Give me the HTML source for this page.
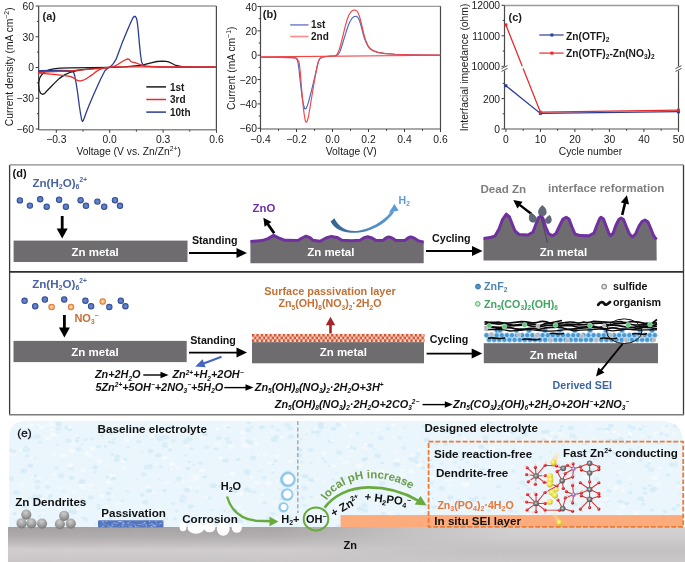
<!DOCTYPE html>
<html><head><meta charset="utf-8"><title>Figure</title>
<style>
html,body{margin:0;padding:0;background:#fff;width:685px;height:562px;overflow:hidden;}
svg{display:block;will-change:transform;}
text{font-family:"Liberation Sans",sans-serif;}
</style></head><body>
<svg width="685" height="562" viewBox="0 0 685 562">
<rect width="685" height="562" fill="#fff"/>
<line x1="38.65" y1="6" x2="216.4" y2="6" stroke="#9a9a9a" stroke-width="1.3"/>
<line x1="38.65" y1="129.8" x2="216.4" y2="129.8" stroke="#8a8a8a" stroke-width="1.5"/>
<path d="M38.65,6V129.8M216.4,6V129.8" fill="none" stroke="#4a4a4a" stroke-width="1.2"/>
<path d="M35.65,6H38.65M35.65,36.75H38.65M35.65,67.5H38.65M35.65,98.25H38.65M35.65,129H38.65M36.85,21.38H38.65M36.85,52.12H38.65M36.85,82.88H38.65M36.85,113.62H38.65" stroke="#3c3c3c" stroke-width="1"/>
<path d="M56.3,129.8V132.8M109.7,129.8V132.8M163.1,129.8V132.8M216.5,129.8V132.8M83,129.8V131.6M136.4,129.8V131.6M189.8,129.8V131.6" stroke="#3c3c3c" stroke-width="1"/>
<text x="34" y="9.9" font-size="10.3" text-anchor="end" fill="#1a1a1a">60</text>
<text x="34" y="40.65" font-size="10.3" text-anchor="end" fill="#1a1a1a">30</text>
<text x="34" y="71.4" font-size="10.3" text-anchor="end" fill="#1a1a1a">0</text>
<text x="34" y="102.15" font-size="10.3" text-anchor="end" fill="#1a1a1a">−30</text>
<text x="34" y="132.9" font-size="10.3" text-anchor="end" fill="#1a1a1a">−60</text>
<text x="56.3" y="142.6" font-size="10.3" text-anchor="middle" fill="#1a1a1a">−0.3</text>
<text x="109.7" y="142.6" font-size="10.3" text-anchor="middle" fill="#1a1a1a">0.0</text>
<text x="163.1" y="142.6" font-size="10.3" text-anchor="middle" fill="#1a1a1a">0.3</text>
<text x="216.5" y="142.6" font-size="10.3" text-anchor="middle" fill="#1a1a1a">0.6</text>
<text x="76.4" y="154.9" font-size="10.3" fill="#1a1a1a">Voltage (V vs. Zn/Zn<tspan font-size="6.8" dy="-3.8">2+</tspan><tspan dy="3.8">)</tspan></text>
<text transform="translate(12.6,126.2) rotate(-90)" font-size="10.3" fill="#1a1a1a">Current density (mA cm<tspan font-size="6.8" dy="-3.8">−2</tspan><tspan dy="3.8">)</tspan></text>
<text x="42.6" y="19.6" font-size="11" font-weight="bold" fill="#1a1a1a">(a)</text>
<polyline points="38.6,83 39.5,78.5 41,75.8 43,73.3 45.3,71.4 49,69.8 53.5,68.8 60,68.1 70,67.8 110,67.4" fill="none" stroke="#1b1b1b" stroke-width="1.3" stroke-linejoin="round" stroke-linecap="round"/>
<polyline points="38.6,83 39.2,90 40.6,93.3 42.4,94.3 44.5,93.6 47,90.8 50,87.7 55,82.6 59.4,78.4 65,74.6 71,72 77,70.5 82.7,69.6 95,68.4 106,67.7 125,66.8 142.3,65.2 147,63.9 151.1,62.8 157,61.5 162.8,61.1 166,61.3 168.6,61.9 172,63.5 175.9,65.5 181.8,66.6 195,67.1 216,67.2" fill="none" stroke="#1b1b1b" stroke-width="1.3" stroke-linejoin="round" stroke-linecap="round"/>
<polyline points="38.6,70.5 60,70.4 71,70.6" fill="none" stroke="#2c3d97" stroke-width="1.2" stroke-linejoin="round" stroke-linecap="round"/>
<polyline points="38.6,71.4 60,71.3 71,71.1 73.4,71.8 74.8,76 76.3,84.2 77.8,94 79.2,105 80.5,113.5 81.6,119.5 82.4,121.4 83.3,120.6 84.6,117 86.8,111 89.2,105 92.9,96.2 96.7,87.7 100.8,78.7 104.9,70.8 107.8,68.2 110.8,66.4 113.5,63.4 116,59.4 119,51.5 121.9,43.6 125.5,34.8 129.2,26.1 131.3,21.3 133,17.8 134.3,16.3 135.4,16.5 136.4,18.2 137.2,21.7 138.2,30 139.4,43.6 140.5,54.5 141.6,62 143,64.8 145.3,66.1 150,66.7 180,67.3 216,67.4" fill="none" stroke="#2c3d97" stroke-width="1.3" stroke-linejoin="round" stroke-linecap="round"/>
<polyline points="38.6,72.4 70,70.8 100,68.4 116,66.9 150,66.9 216,67.2" fill="none" stroke="#e52b2b" stroke-width="1.3" stroke-linejoin="round" stroke-linecap="round"/>
<polyline points="38.6,73.1 53.5,74.3 65,75.6 71,76.6 73.5,77.8 75.7,79.5 78.6,80.9 81,80.8 85,79.5 88.5,77.3 92,74.9 95.5,72.1 99,69.7 103,68.4 106,67.8 110,67.1 114.6,66.2 118,64.3 121.9,61.8 125.5,59.8 127.7,58.9 129.5,59.7 130.7,61.5 132.5,62.2 135,62.6 137.5,63.5 140.1,64.7 145.3,66.2 160,66.9 216,67.2" fill="none" stroke="#e52b2b" stroke-width="1.3" stroke-linejoin="round" stroke-linecap="round"/>
<line x1="146.3" y1="86.9" x2="166" y2="86.9" stroke="#1b1b1b" stroke-width="1.5"/>
<text x="170" y="90.5" font-size="10" font-weight="bold" fill="#1a1a1a">1st</text>
<line x1="146.3" y1="99.5" x2="166" y2="99.5" stroke="#e52b2b" stroke-width="1.5"/>
<text x="170" y="103.1" font-size="10" font-weight="bold" fill="#1a1a1a">3rd</text>
<line x1="146.3" y1="112.1" x2="166" y2="112.1" stroke="#2c3d97" stroke-width="1.5"/>
<text x="170" y="115.7" font-size="10" font-weight="bold" fill="#1a1a1a">10th</text>
<line x1="260.5" y1="6.3" x2="440.5" y2="6.3" stroke="#9a9a9a" stroke-width="1.3"/>
<line x1="260.5" y1="129" x2="440.5" y2="129" stroke="#555" stroke-width="1.1"/>
<path d="M260.5,6.3V129M440.5,6.3V129" fill="none" stroke="#4a4a4a" stroke-width="1.2"/>
<path d="M257.5,6.5H260.5M257.5,30.85H260.5M257.5,55.2H260.5M257.5,79.55H260.5M257.5,103.9H260.5M257.5,128.25H260.5M258.7,18.68H260.5M258.7,43.03H260.5M258.7,67.38H260.5M258.7,91.72H260.5M258.7,116.08H260.5" stroke="#3c3c3c" stroke-width="1"/>
<path d="M260.5,129V132M296.5,129V132M332.5,129V132M368.5,129V132M404.5,129V132M440.5,129V132M278.5,129V130.8M314.5,129V130.8M350.5,129V130.8M386.5,129V130.8M422.5,129V130.8" stroke="#3c3c3c" stroke-width="1"/>
<text x="257" y="10.6" font-size="10.3" text-anchor="end" fill="#1a1a1a">40</text>
<text x="257" y="34.95" font-size="10.3" text-anchor="end" fill="#1a1a1a">20</text>
<text x="257" y="59.3" font-size="10.3" text-anchor="end" fill="#1a1a1a">0</text>
<text x="257" y="83.65" font-size="10.3" text-anchor="end" fill="#1a1a1a">−20</text>
<text x="257" y="108" font-size="10.3" text-anchor="end" fill="#1a1a1a">−40</text>
<text x="257" y="132.35" font-size="10.3" text-anchor="end" fill="#1a1a1a">−60</text>
<text x="260.5" y="142.7" font-size="10.3" text-anchor="middle" fill="#1a1a1a">−0.4</text>
<text x="296.5" y="142.7" font-size="10.3" text-anchor="middle" fill="#1a1a1a">−0.2</text>
<text x="332.5" y="142.7" font-size="10.3" text-anchor="middle" fill="#1a1a1a">0.0</text>
<text x="368.5" y="142.7" font-size="10.3" text-anchor="middle" fill="#1a1a1a">0.2</text>
<text x="404.5" y="142.7" font-size="10.3" text-anchor="middle" fill="#1a1a1a">0.4</text>
<text x="440.5" y="142.7" font-size="10.3" text-anchor="middle" fill="#1a1a1a">0.6</text>
<text x="351.3" y="154.9" font-size="10.3" text-anchor="middle" fill="#1a1a1a">Voltage (V)</text>
<text transform="translate(235.1,109.9) rotate(-90)" font-size="10.3" fill="#1a1a1a">Current (mA cm<tspan font-size="6.8" dy="-3.8">−1</tspan><tspan dy="3.8">)</tspan></text>
<text x="262.8" y="18" font-size="11" font-weight="bold" fill="#1a1a1a">(b)</text>
<polyline points="260.8,57.2 280,57.4 292,57.6 295.6,57.9 297,59.5 297.8,61.6 299,69 299.9,78.4 301,88 302,97 303.5,105 304.9,109 306.3,108.2 308.4,102.6 310.5,94.5 312.7,85.6 315,76 317,67.5 318.5,61.2 319.8,58.7 322.7,56.9 330,56.2 336,55.8 338,54.8 340,51.5 342,45.5 344,38.8 346,32.3 348,26.3 350,21.5 352,18.3 354,16.6 356,16.2 357.8,17.2 359.5,20.5 361,25.5 362.4,31 364,37 366,42.3 368,46.3 370,48.8 373,50.8 378,52.4 385,53.5 395,54.2 410,54.7 440.2,55.2" fill="none" stroke="#4f68c6" stroke-width="1.15" stroke-linejoin="round"/>
<polyline points="260.8,57.2 280,57.4 292,57.6 296.4,58 297.8,59.8 299.2,63 300.3,72 301.3,85.6 302.5,98 303.5,109.2 304.5,116.5 305.3,120.8 306,122.3 307,121.7 308.4,117 310,107.5 312,95.5 313.8,84.5 315.6,74.2 317,66.8 318.4,61.4 319.8,58.6 321.3,57.2 328,56.3 335,55.7 337,54.5 339,50.3 341,43.5 343,35.5 345,27.2 347,20 349,14.8 351,11.8 352.8,10.4 354.5,10 356.3,10.5 358,12.6 359.5,16.5 361,22 362.5,28.5 364.2,35.5 366,41.3 368,45.6 370,48.3 373,50.6 378,52.4 385,53.6 395,54.3 410,54.7 440.2,55.1" fill="none" stroke="#f04646" stroke-width="1.15" stroke-linejoin="round"/>
<line x1="260.8" y1="56.9" x2="440.2" y2="55.3" stroke="#f04646" stroke-width="1.1"/>
<line x1="290.2" y1="24.9" x2="308.5" y2="24.9" stroke="#8392d4" stroke-width="1.7"/>
<text x="311" y="28.4" font-size="10" font-weight="bold" fill="#1a1a1a">1st</text>
<line x1="290.2" y1="36.5" x2="308.5" y2="36.5" stroke="#ff8f8f" stroke-width="1.7"/>
<text x="311" y="40" font-size="10" font-weight="bold" fill="#1a1a1a">2nd</text>
<line x1="504.5" y1="5.5" x2="678.5" y2="5.5" stroke="#9a9a9a" stroke-width="1.3"/>
<line x1="504.5" y1="129" x2="678.5" y2="129" stroke="#555" stroke-width="1.1"/>
<path d="M504.5,5.5V129M678.5,5.5V129" fill="none" stroke="#4a4a4a" stroke-width="1.2"/>
<path d="M501.5,5.3H504.5M501.5,35.8H504.5M501.5,66.3H504.5M501.5,98.6H504.5M501.5,129H504.5M502.7,20.55H504.5M502.7,51.05H504.5M502.7,83.4H504.5M502.7,113.8H504.5" stroke="#3c3c3c" stroke-width="1"/>
<path d="M505.9,129V132M540.4,129V132M574.9,129V132M609.4,129V132M643.9,129V132M678.4,129V132M523.15,129V130.8M557.65,129V130.8M592.15,129V130.8M626.65,129V130.8M661.15,129V130.8" stroke="#3c3c3c" stroke-width="1"/>
<text x="500.1" y="9.3" font-size="10.3" text-anchor="end" fill="#1a1a1a">12000</text>
<text x="500.1" y="39.8" font-size="10.3" text-anchor="end" fill="#1a1a1a">11000</text>
<text x="500.1" y="70.3" font-size="10.3" text-anchor="end" fill="#1a1a1a">10000</text>
<text x="500.1" y="102.6" font-size="10.3" text-anchor="end" fill="#1a1a1a">200</text>
<text x="500.1" y="133" font-size="10.3" text-anchor="end" fill="#1a1a1a">0</text>
<text x="505.9" y="142.7" font-size="10.3" text-anchor="middle" fill="#1a1a1a">0</text>
<text x="540.4" y="142.7" font-size="10.3" text-anchor="middle" fill="#1a1a1a">10</text>
<text x="574.9" y="142.7" font-size="10.3" text-anchor="middle" fill="#1a1a1a">20</text>
<text x="609.4" y="142.7" font-size="10.3" text-anchor="middle" fill="#1a1a1a">30</text>
<text x="643.9" y="142.7" font-size="10.3" text-anchor="middle" fill="#1a1a1a">40</text>
<text x="678.4" y="142.7" font-size="10.3" text-anchor="middle" fill="#1a1a1a">50</text>
<text x="590.5" y="154.9" font-size="10.3" text-anchor="middle" fill="#1a1a1a">Cycle number</text>
<text transform="translate(468.4,67.5) rotate(-90)" font-size="10.3" text-anchor="middle" fill="#1a1a1a">Interfacial impedance (ohm)</text>
<text x="508.5" y="20.9" font-size="11" font-weight="bold" fill="#1a1a1a">(c)</text>
<polyline points="505.9,85.7 540.4,113.4 678.4,111.6" fill="none" stroke="#2c3d97" stroke-width="1.3"/>
<polyline points="505.9,24.9 540.4,112.2 678.4,110.2" fill="none" stroke="#e52b2b" stroke-width="1.3"/>
<rect x="504.4" y="84.2" width="3" height="3" fill="#2c3d97"/>
<rect x="538.9" y="111.9" width="3" height="3" fill="#2c3d97"/>
<rect x="676.9" y="110.3" width="3" height="3" fill="#2c3d97"/>
<rect x="504.4" y="23.4" width="3" height="3" fill="#e52b2b"/>
<rect x="538.9" y="110.7" width="3" height="3" fill="#e52b2b"/>
<rect x="676.9" y="108.7" width="3" height="3" fill="#e52b2b"/>
<path d="M501.5,69L507.5,66M501.5,71L507.5,68" stroke="#fff" stroke-width="2.2"/>
<path d="M501.5,68.6L507.5,65.6M501.5,71.4L507.5,68.4" stroke="#3c3c3c" stroke-width="0.9"/>
<path d="M675.5,69L681.5,66M675.5,71L681.5,68" stroke="#fff" stroke-width="2.2"/>
<path d="M675.5,68.6L681.5,65.6M675.5,71.4L681.5,68.4" stroke="#3c3c3c" stroke-width="0.9"/>
<path d="M517,69.3L528,65.3" stroke="#fff" stroke-width="2.4"/>
<line x1="539.3" y1="35" x2="563.6" y2="35" stroke="#2c3d97" stroke-width="1.2"/><rect x="550.4" y="33.5" width="3" height="3" fill="#2c3d97"/>
<line x1="539.3" y1="53.1" x2="563.6" y2="53.1" stroke="#e52b2b" stroke-width="1.2"/><rect x="550.4" y="51.6" width="3" height="3" fill="#e52b2b"/>
<text x="566.1" y="39.9" font-size="10.2" font-weight="bold" fill="#1a1a1a">Zn(OTF)<tspan font-size="6.6" dy="2.4">2</tspan></text>
<text x="566.1" y="56.9" font-size="10.2" font-weight="bold" fill="#1a1a1a">Zn(OTF)<tspan font-size="6.6" dy="2.4">2</tspan><tspan dy="-2.4">-Zn(NO</tspan><tspan font-size="6.6" dy="2.4">3</tspan><tspan dy="-2.4">)</tspan><tspan font-size="6.6" dy="2.4">2</tspan></text>
<defs><radialGradient id="dotB" cx="0.5" cy="0.5" r="0.5"><stop offset="0" stop-color="#6d8ed6"/><stop offset="0.55" stop-color="#5577c2"/><stop offset="1" stop-color="#253a7c"/></radialGradient><radialGradient id="dotO" cx="0.5" cy="0.5" r="0.5"><stop offset="0" stop-color="#fff3cf"/><stop offset="0.5" stop-color="#f9b46a"/><stop offset="1" stop-color="#d8692a"/></radialGradient></defs>
<path d="M9.6,164.9V414.7M683.5,164.9V414.7" fill="none" stroke="#3a3a3a" stroke-width="1.3"/>
<line x1="9" y1="414.8" x2="684.1" y2="414.8" stroke="#7c7c7c" stroke-width="1.6"/>
<line x1="9.6" y1="164.9" x2="683.5" y2="164.9" stroke="#8a8a8a" stroke-width="1.4"/>
<line x1="9.6" y1="271.8" x2="683.5" y2="271.8" stroke="#2e2e2e" stroke-width="1.7"/>
<text x="12.5" y="176.7" font-size="11" font-weight="bold" fill="#111">(d)</text>
<text x="32.4" y="186.8" font-size="11.6" font-weight="bold" fill="#4a64a3">Zn(H<tspan font-size="7" dy="2.2">2</tspan><tspan dy="-2.2">​</tspan>O)<tspan font-size="7" dy="2.2">6</tspan><tspan dy="-2.2">​</tspan><tspan font-size="6.6" dy="-4.8">2+</tspan><tspan dy="4.8">​</tspan></text>
<circle cx="19.9" cy="200.4" r="3.2" fill="url(#dotB)"/>
<circle cx="29.9" cy="205.6" r="3.2" fill="url(#dotB)"/>
<circle cx="40.2" cy="199.3" r="3.2" fill="url(#dotB)"/>
<circle cx="46.7" cy="206.7" r="3.2" fill="url(#dotB)"/>
<circle cx="59.1" cy="199.7" r="3.2" fill="url(#dotB)"/>
<circle cx="65.9" cy="206.7" r="3.2" fill="url(#dotB)"/>
<circle cx="80.6" cy="200.2" r="3.2" fill="url(#dotB)"/>
<circle cx="86" cy="205.8" r="3.2" fill="url(#dotB)"/>
<circle cx="97.4" cy="201.6" r="3.2" fill="url(#dotB)"/>
<circle cx="104.2" cy="206.7" r="3.2" fill="url(#dotB)"/>
<circle cx="115" cy="200.2" r="3.2" fill="url(#dotB)"/>
<circle cx="120" cy="205.8" r="3.2" fill="url(#dotB)"/>
<line x1="62.2" y1="216" x2="62.2" y2="229.1" stroke="#000" stroke-width="2.8"/><polygon points="62.2,238.6 56.7,228.6 67.7,228.6" fill="#000"/>
<rect x="13.6" y="240.6" width="173.9" height="21.4" fill="#6e6c6f"/>
<text x="95.1" y="256.2" font-size="11.5" font-weight="bold" text-anchor="middle" fill="#fff">Zn metal</text>
<text x="191.9" y="244.2" font-size="10.7" font-weight="bold" fill="#111">Standing</text>
<line x1="189" y1="253" x2="237" y2="253" stroke="#000" stroke-width="1.9"/><polygon points="247,253 236.5,258 236.5,248" fill="#000"/>
<polygon points="250.4,241.6 262,240.6 268,238.6 273.6,235.4 278,237.6 285,240.3 298,240.6 302,238 306,236.2 310,237.6 313,240.3 320,241.2 326,238 331.4,236.4 337,237.4 342,240.2 351.6,240.8 360,240.2 364,237.8 367.7,236.8 372,238 376,240.6 383,240.4 386,238 388.7,236.9 392,238 396,240.6 405,240.4 408,238 410.6,236.9 414,238 418,240.6 423.7,242.2 423.7,263.2 250.4,263.2" fill="#6e6c6f"/>
<polyline points="250.4,241.6 262,240.6 268,238.6 273.6,235.4 278,237.6 285,240.3 298,240.6 302,238 306,236.2 310,237.6 313,240.3 320,241.2 326,238 331.4,236.4 337,237.4 342,240.2 351.6,240.8 360,240.2 364,237.8 367.7,236.8 372,238 376,240.6 383,240.4 386,238 388.7,236.9 392,238 396,240.6 405,240.4 408,238 410.6,236.9 414,238 418,240.6 423.7,242.2" fill="none" stroke="#7030a0" stroke-width="3" stroke-linejoin="round"/>
<text x="330.8" y="256.3" font-size="11.5" font-weight="bold" text-anchor="middle" fill="#fff">Zn metal</text>
<text x="252.5" y="211.9" font-size="11.4" font-weight="bold" fill="#7030a0">ZnO</text>
<line x1="274.2" y1="233.2" x2="267.71" y2="223.94" stroke="#000" stroke-width="2.8"/><polygon points="263.4,217.8 271.47,221.91 264.51,226.79" fill="#000"/>
<defs><linearGradient id="bgA" x1="0" x2="1" y1="0" y2="0"><stop offset="0" stop-color="#33628f"/><stop offset="0.5" stop-color="#4a80b8"/><stop offset="1" stop-color="#5a9bd8"/></linearGradient></defs>
<path d="M330.6,221.4 C335,230.2 345.5,233.4 357,232.8 C368,232.2 381,226 387.5,219.5 C390.5,216.5 392.5,214.5 394,212.2 L391.4,211 C389.8,213.3 388,215.4 385.5,217.6 C378,224.3 367,230 357,230.9 C347,231.6 338.8,227.6 334.4,218.3 Z" fill="url(#bgA)"/>
<polygon points="394.4,204.1 388.8,212.7 398.6,210.4" fill="#5a9bd8"/>
<text x="398.6" y="203.7" font-size="10.5" font-weight="bold" fill="#5b9bd5">H<tspan font-size="6.5" dy="2.4">2</tspan><tspan dy="-2.4">​</tspan></text>
<text x="432" y="241.7" font-size="10.7" font-weight="bold" fill="#111">Cycling</text>
<line x1="426" y1="251" x2="472.5" y2="251" stroke="#000" stroke-width="1.9"/><polygon points="482.5,251 472,256 472,246" fill="#000"/>
<polygon points="483.5,238.4 490,237.6 495,236 499,229 502.5,219.5 506.3,214.2 509.5,217 512,223.5 515,231 519,234.5 528,235 533,232 536,224 538.5,217.8 540.6,216.2 542.8,218 545.5,226.5 548.5,233.5 552.3,235.8 556,233.5 559.5,226 563,219 566.2,217.3 569,219 572,227 575,234 580,235.6 589,235.8 594,233 597,225 599.5,219 601,217.3 603.5,219 606.5,227 609,233.5 610.5,235.6 613,233.5 616,225 619,219.3 621.1,218.1 623.5,219.5 626.5,227 629.5,234 632.4,237 635.5,234 639,226 642,221.5 645,220 648,222 651,229 653.5,235.5 656.5,239.6 656.7,260.6 483.5,260.6" fill="#6e6c6f"/>
<polyline points="483.5,238.4 490,237.6 495,236 499,229 502.5,219.5 506.3,214.2 509.5,217 512,223.5 515,231 519,234.5 528,235 533,232 536,224 538.5,217.8 540.6,216.2 542.8,218 545.5,226.5 548.5,233.5 552.3,235.8 556,233.5 559.5,226 563,219 566.2,217.3 569,219 572,227 575,234 580,235.6 589,235.8 594,233 597,225 599.5,219 601,217.3 603.5,219 606.5,227 609,233.5 610.5,235.6 613,233.5 616,225 619,219.3 621.1,218.1 623.5,219.5 626.5,227 629.5,234 632.4,237 635.5,234 639,226 642,221.5 645,220 648,222 651,229 653.5,235.5 656.5,239.6" fill="none" stroke="#7030a0" stroke-width="3" stroke-linejoin="round"/>
<text x="563.5" y="256" font-size="11.5" font-weight="bold" text-anchor="middle" fill="#fff">Zn metal</text>
<text x="480.4" y="193.2" font-size="11.6" font-weight="bold" fill="#7f7f7f">Dead Zn</text>
<text x="548" y="191.8" font-size="11.65" font-weight="bold" fill="#7f7f7f">interface reformation</text>
<line x1="531.5" y1="214" x2="519.64" y2="204.88" stroke="#000" stroke-width="2.4"/><polygon points="513.3,200 522.63,201.81 517.45,208.55" fill="#000"/>
<line x1="622.2" y1="215" x2="625.05" y2="202.98" stroke="#000" stroke-width="2.6"/><polygon points="626.9,195.2 629.07,204.45 620.8,202.49" fill="#000"/>
<path d="M542.3,205.6 C545.5,207.5 546.8,211 546,213.5 C545,216.5 540.5,216.8 539,214.2 C537.8,212 539,208 542.3,205.6 Z" fill="#636876" stroke="#4a5472" stroke-width="0.7"/>
<path d="M530.5,213 C533.5,214 536.8,217 536.6,219.8 C536.3,222.3 532,223 530.2,221 C528.8,219.2 529.2,216 530.5,213 Z" fill="#636876" stroke="#4a5472" stroke-width="0.7"/>
<path d="M549.8,215.5 C551.3,217.5 551.8,220.5 550.6,222.3 C549.4,224 546,223.7 545.3,221.6 C544.7,219.5 546.8,216.8 549.8,215.5 Z" fill="#636876" stroke="#4a5472" stroke-width="0.7"/>
<path d="M541,217 L547.5,243" stroke="#4a3a6a" stroke-width="0.9"/>
<text x="32.2" y="287.6" font-size="11.6" font-weight="bold" fill="#4a64a3">Zn(H<tspan font-size="7" dy="2.2">2</tspan><tspan dy="-2.2">​</tspan>O)<tspan font-size="7" dy="2.2">6</tspan><tspan dy="-2.2">​</tspan><tspan font-size="6.6" dy="-4.8">2+</tspan><tspan dy="4.8">​</tspan></text>
<circle cx="24.6" cy="300.8" r="3.2" fill="url(#dotB)"/>
<circle cx="35.2" cy="306.2" r="3.2" fill="url(#dotB)"/>
<circle cx="44.9" cy="299.5" r="3.2" fill="url(#dotB)"/>
<circle cx="51.6" cy="307" r="3.2" fill="url(#dotO)"/>
<circle cx="64.2" cy="299.5" r="3.2" fill="url(#dotB)"/>
<circle cx="71" cy="307" r="3.2" fill="url(#dotO)"/>
<circle cx="85.4" cy="300.7" r="3.2" fill="url(#dotB)"/>
<circle cx="91.1" cy="306.3" r="3.2" fill="url(#dotB)"/>
<circle cx="102.7" cy="301.5" r="3.2" fill="url(#dotO)"/>
<circle cx="109.3" cy="307" r="3.2" fill="url(#dotB)"/>
<circle cx="120.8" cy="300.7" r="3.2" fill="url(#dotB)"/>
<circle cx="125.4" cy="306.3" r="3.2" fill="url(#dotB)"/>
<text x="74.4" y="322.2" font-size="11" font-weight="bold" fill="#c46f34">NO<tspan font-size="6.5" dy="2.2">3</tspan><tspan dy="-2.2">​</tspan><tspan font-size="7" dy="-4.5">−</tspan><tspan dy="4.5">​</tspan></text>
<line x1="64.4" y1="315" x2="64.4" y2="328.1" stroke="#000" stroke-width="2.8"/><polygon points="64.4,337.6 58.9,327.6 69.9,327.6" fill="#000"/>
<rect x="13.5" y="340.9" width="173.2" height="21.2" fill="#6e6c6f"/>
<text x="95" y="356.3" font-size="11.5" font-weight="bold" text-anchor="middle" fill="#fff">Zn metal</text>
<text x="190.2" y="344.2" font-size="10.7" font-weight="bold" fill="#111">Standing</text>
<line x1="189" y1="352.6" x2="237" y2="352.6" stroke="#000" stroke-width="1.9"/><polygon points="247,352.6 236.5,357.6 236.5,347.6" fill="#000"/>
<line x1="221.5" y1="356.7" x2="203.62" y2="363.43" stroke="#4466c0" stroke-width="2.1"/><polygon points="195.2,366.6 202.59,359.28 205.59,367.23" fill="#4466c0"/>
<defs><pattern id="chk" x="252" y="333.9" width="4.4" height="5.4" patternUnits="userSpaceOnUse"><rect width="4.4" height="5.4" fill="#fad6c4"/><rect width="2.2" height="2.7" fill="#d24e30"/><rect x="2.2" y="2.7" width="2.2" height="2.7" fill="#d24e30"/></pattern></defs>
<rect x="252" y="333.9" width="172.5" height="8.6" fill="url(#chk)"/>
<rect x="252" y="342.2" width="172" height="21.1" fill="#6e6c6f"/>
<text x="343.3" y="355.9" font-size="11.5" font-weight="bold" text-anchor="middle" fill="#fff">Zn metal</text>
<text x="330" y="294.5" font-size="10.9" font-weight="bold" text-anchor="middle" fill="#c46f34">Surface passivation layer</text>
<text x="330" y="307.3" font-size="10.7" font-weight="bold" text-anchor="middle" fill="#c46f34">Zn<tspan font-size="6.5" dy="2.2">5</tspan><tspan dy="-2.2">​</tspan>(OH)<tspan font-size="6.5" dy="2.2">8</tspan><tspan dy="-2.2">​</tspan>(NO<tspan font-size="6.5" dy="2.2">3</tspan><tspan dy="-2.2">​</tspan>)<tspan font-size="6.5" dy="2.2">2</tspan><tspan dy="-2.2">​</tspan>·2H<tspan font-size="6.5" dy="2.2">2</tspan><tspan dy="-2.2">​</tspan>O</text>
<line x1="330.5" y1="333.5" x2="330.5" y2="324.8" stroke="#a3262a" stroke-width="2.6"/><polygon points="330.5,316.8 335.25,325.3 325.75,325.3" fill="#a3262a"/>
<text x="429.7" y="342.8" font-size="10.7" font-weight="bold" fill="#111">Cycling</text>
<line x1="426.6" y1="353.6" x2="472.2" y2="353.6" stroke="#000" stroke-width="1.9"/><polygon points="482.2,353.6 471.7,358.6 471.7,348.6" fill="#000"/>
<rect x="483.8" y="343.2" width="174.2" height="20" fill="#6e6c6f"/>
<text x="553.5" y="358.6" font-size="11.5" font-weight="bold" text-anchor="middle" fill="#fff">Zn metal</text>
<g>
<circle cx="486.5" cy="335.2" r="2.55" fill="#4a98d2" stroke="#c0e2f6" stroke-width="0.7"/>
<circle cx="491.6" cy="335.2" r="2.55" fill="#4a98d2" stroke="#c0e2f6" stroke-width="0.7"/>
<circle cx="496.7" cy="335.2" r="2.55" fill="#4a98d2" stroke="#c0e2f6" stroke-width="0.7"/>
<circle cx="501.8" cy="335.2" r="2.55" fill="#4a98d2" stroke="#c0e2f6" stroke-width="0.7"/>
<circle cx="506.9" cy="335.2" r="2.55" fill="#4a98d2" stroke="#c0e2f6" stroke-width="0.7"/>
<circle cx="512" cy="335.2" r="2.55" fill="#4a98d2" stroke="#c0e2f6" stroke-width="0.7"/>
<circle cx="517.1" cy="335.2" r="2.55" fill="#4a98d2" stroke="#c0e2f6" stroke-width="0.7"/>
<circle cx="522.2" cy="335.2" r="2.55" fill="#4a98d2" stroke="#c0e2f6" stroke-width="0.7"/>
<circle cx="527.3" cy="335.2" r="2.55" fill="#4a98d2" stroke="#c0e2f6" stroke-width="0.7"/>
<circle cx="532.4" cy="335.2" r="2.55" fill="#4a98d2" stroke="#c0e2f6" stroke-width="0.7"/>
<circle cx="537.5" cy="335.2" r="2.55" fill="#4a98d2" stroke="#c0e2f6" stroke-width="0.7"/>
<circle cx="542.6" cy="335.2" r="2.55" fill="#4a98d2" stroke="#c0e2f6" stroke-width="0.7"/>
<circle cx="547.7" cy="335.2" r="2.55" fill="#4a98d2" stroke="#c0e2f6" stroke-width="0.7"/>
<circle cx="552.8" cy="335.2" r="2.55" fill="#4a98d2" stroke="#c0e2f6" stroke-width="0.7"/>
<circle cx="557.9" cy="335.2" r="2.55" fill="#4a98d2" stroke="#c0e2f6" stroke-width="0.7"/>
<circle cx="563" cy="335.2" r="2.55" fill="#4a98d2" stroke="#c0e2f6" stroke-width="0.7"/>
<circle cx="568.1" cy="335.2" r="2.55" fill="#4a98d2" stroke="#c0e2f6" stroke-width="0.7"/>
<circle cx="573.2" cy="335.2" r="2.55" fill="#4a98d2" stroke="#c0e2f6" stroke-width="0.7"/>
<circle cx="578.3" cy="335.2" r="2.55" fill="#4a98d2" stroke="#c0e2f6" stroke-width="0.7"/>
<circle cx="583.4" cy="335.2" r="2.55" fill="#4a98d2" stroke="#c0e2f6" stroke-width="0.7"/>
<circle cx="588.5" cy="335.2" r="2.55" fill="#4a98d2" stroke="#c0e2f6" stroke-width="0.7"/>
<circle cx="593.6" cy="335.2" r="2.55" fill="#4a98d2" stroke="#c0e2f6" stroke-width="0.7"/>
<circle cx="598.7" cy="335.2" r="2.55" fill="#4a98d2" stroke="#c0e2f6" stroke-width="0.7"/>
<circle cx="603.8" cy="335.2" r="2.55" fill="#4a98d2" stroke="#c0e2f6" stroke-width="0.7"/>
<circle cx="608.9" cy="335.2" r="2.55" fill="#4a98d2" stroke="#c0e2f6" stroke-width="0.7"/>
<circle cx="614" cy="335.2" r="2.55" fill="#4a98d2" stroke="#c0e2f6" stroke-width="0.7"/>
<circle cx="619.1" cy="335.2" r="2.55" fill="#4a98d2" stroke="#c0e2f6" stroke-width="0.7"/>
<circle cx="624.2" cy="335.2" r="2.55" fill="#4a98d2" stroke="#c0e2f6" stroke-width="0.7"/>
<circle cx="629.3" cy="335.2" r="2.55" fill="#4a98d2" stroke="#c0e2f6" stroke-width="0.7"/>
<circle cx="634.4" cy="335.2" r="2.55" fill="#4a98d2" stroke="#c0e2f6" stroke-width="0.7"/>
<circle cx="639.5" cy="335.2" r="2.55" fill="#4a98d2" stroke="#c0e2f6" stroke-width="0.7"/>
<circle cx="644.6" cy="335.2" r="2.55" fill="#4a98d2" stroke="#c0e2f6" stroke-width="0.7"/>
<circle cx="649.7" cy="335.2" r="2.55" fill="#4a98d2" stroke="#c0e2f6" stroke-width="0.7"/>
<circle cx="654.8" cy="335.2" r="2.55" fill="#4a98d2" stroke="#c0e2f6" stroke-width="0.7"/>
<circle cx="489.1" cy="339.8" r="2.55" fill="#4a98d2" stroke="#c0e2f6" stroke-width="0.7"/>
<circle cx="494.2" cy="339.8" r="2.55" fill="#4a98d2" stroke="#c0e2f6" stroke-width="0.7"/>
<circle cx="499.3" cy="339.8" r="2.55" fill="#4a98d2" stroke="#c0e2f6" stroke-width="0.7"/>
<circle cx="504.4" cy="339.8" r="2.55" fill="#4a98d2" stroke="#c0e2f6" stroke-width="0.7"/>
<circle cx="509.5" cy="339.8" r="2.55" fill="#4a98d2" stroke="#c0e2f6" stroke-width="0.7"/>
<circle cx="514.6" cy="339.8" r="2.55" fill="#4a98d2" stroke="#c0e2f6" stroke-width="0.7"/>
<circle cx="519.7" cy="339.8" r="2.55" fill="#4a98d2" stroke="#c0e2f6" stroke-width="0.7"/>
<circle cx="524.8" cy="339.8" r="2.55" fill="#4a98d2" stroke="#c0e2f6" stroke-width="0.7"/>
<circle cx="529.9" cy="339.8" r="2.55" fill="#4a98d2" stroke="#c0e2f6" stroke-width="0.7"/>
<circle cx="535" cy="339.8" r="2.55" fill="#4a98d2" stroke="#c0e2f6" stroke-width="0.7"/>
<circle cx="540.1" cy="339.8" r="2.55" fill="#4a98d2" stroke="#c0e2f6" stroke-width="0.7"/>
<circle cx="545.2" cy="339.8" r="2.55" fill="#4a98d2" stroke="#c0e2f6" stroke-width="0.7"/>
<circle cx="550.3" cy="339.8" r="2.55" fill="#4a98d2" stroke="#c0e2f6" stroke-width="0.7"/>
<circle cx="555.4" cy="339.8" r="2.55" fill="#4a98d2" stroke="#c0e2f6" stroke-width="0.7"/>
<circle cx="560.5" cy="339.8" r="2.55" fill="#4a98d2" stroke="#c0e2f6" stroke-width="0.7"/>
<circle cx="565.6" cy="339.8" r="2.55" fill="#4a98d2" stroke="#c0e2f6" stroke-width="0.7"/>
<circle cx="570.7" cy="339.8" r="2.55" fill="#4a98d2" stroke="#c0e2f6" stroke-width="0.7"/>
<circle cx="575.8" cy="339.8" r="2.55" fill="#4a98d2" stroke="#c0e2f6" stroke-width="0.7"/>
<circle cx="580.9" cy="339.8" r="2.55" fill="#4a98d2" stroke="#c0e2f6" stroke-width="0.7"/>
<circle cx="586" cy="339.8" r="2.55" fill="#4a98d2" stroke="#c0e2f6" stroke-width="0.7"/>
<circle cx="591.1" cy="339.8" r="2.55" fill="#4a98d2" stroke="#c0e2f6" stroke-width="0.7"/>
<circle cx="596.2" cy="339.8" r="2.55" fill="#4a98d2" stroke="#c0e2f6" stroke-width="0.7"/>
<circle cx="601.3" cy="339.8" r="2.55" fill="#4a98d2" stroke="#c0e2f6" stroke-width="0.7"/>
<circle cx="606.4" cy="339.8" r="2.55" fill="#4a98d2" stroke="#c0e2f6" stroke-width="0.7"/>
<circle cx="611.5" cy="339.8" r="2.55" fill="#4a98d2" stroke="#c0e2f6" stroke-width="0.7"/>
<circle cx="616.6" cy="339.8" r="2.55" fill="#4a98d2" stroke="#c0e2f6" stroke-width="0.7"/>
<circle cx="621.7" cy="339.8" r="2.55" fill="#4a98d2" stroke="#c0e2f6" stroke-width="0.7"/>
<circle cx="626.8" cy="339.8" r="2.55" fill="#4a98d2" stroke="#c0e2f6" stroke-width="0.7"/>
<circle cx="631.9" cy="339.8" r="2.55" fill="#4a98d2" stroke="#c0e2f6" stroke-width="0.7"/>
<circle cx="637" cy="339.8" r="2.55" fill="#4a98d2" stroke="#c0e2f6" stroke-width="0.7"/>
<circle cx="642.1" cy="339.8" r="2.55" fill="#4a98d2" stroke="#c0e2f6" stroke-width="0.7"/>
<circle cx="647.2" cy="339.8" r="2.55" fill="#4a98d2" stroke="#c0e2f6" stroke-width="0.7"/>
<circle cx="652.3" cy="339.8" r="2.55" fill="#4a98d2" stroke="#c0e2f6" stroke-width="0.7"/>
<circle cx="497" cy="330.5" r="2.55" fill="#4a98d2" stroke="#c0e2f6" stroke-width="0.7"/>
<circle cx="500" cy="330.5" r="2.55" fill="#4a98d2" stroke="#c0e2f6" stroke-width="0.7"/>
<circle cx="516.5" cy="330.5" r="2.55" fill="#4a98d2" stroke="#c0e2f6" stroke-width="0.7"/>
<circle cx="529" cy="330.5" r="2.55" fill="#4a98d2" stroke="#c0e2f6" stroke-width="0.7"/>
<circle cx="545" cy="330.5" r="2.55" fill="#4a98d2" stroke="#c0e2f6" stroke-width="0.7"/>
<circle cx="560" cy="330.5" r="2.55" fill="#4a98d2" stroke="#c0e2f6" stroke-width="0.7"/>
<circle cx="575" cy="330.5" r="2.55" fill="#4a98d2" stroke="#c0e2f6" stroke-width="0.7"/>
<circle cx="590" cy="330.5" r="2.55" fill="#4a98d2" stroke="#c0e2f6" stroke-width="0.7"/>
<circle cx="606" cy="330.5" r="2.55" fill="#4a98d2" stroke="#c0e2f6" stroke-width="0.7"/>
<circle cx="622" cy="330.5" r="2.55" fill="#4a98d2" stroke="#c0e2f6" stroke-width="0.7"/>
<circle cx="640" cy="330.5" r="2.55" fill="#4a98d2" stroke="#c0e2f6" stroke-width="0.7"/>
<circle cx="652" cy="330.5" r="2.55" fill="#4a98d2" stroke="#c0e2f6" stroke-width="0.7"/>
<circle cx="491.6" cy="334.3" r="2.2" fill="#b8b8bc" stroke="#e8e8e8" stroke-width="0.5"/>
<circle cx="518.8" cy="335" r="2.2" fill="#b8b8bc" stroke="#e8e8e8" stroke-width="0.5"/>
<circle cx="536.5" cy="335.7" r="2.2" fill="#b8b8bc" stroke="#e8e8e8" stroke-width="0.5"/>
<circle cx="551" cy="340.3" r="2.2" fill="#b8b8bc" stroke="#e8e8e8" stroke-width="0.5"/>
<circle cx="567.4" cy="340.3" r="2.2" fill="#b8b8bc" stroke="#e8e8e8" stroke-width="0.5"/>
<circle cx="582" cy="336" r="2.2" fill="#b8b8bc" stroke="#e8e8e8" stroke-width="0.5"/>
<circle cx="596" cy="340" r="2.2" fill="#b8b8bc" stroke="#e8e8e8" stroke-width="0.5"/>
<circle cx="611" cy="335" r="2.2" fill="#b8b8bc" stroke="#e8e8e8" stroke-width="0.5"/>
<circle cx="626" cy="340" r="2.2" fill="#b8b8bc" stroke="#e8e8e8" stroke-width="0.5"/>
<circle cx="641" cy="336" r="2.2" fill="#b8b8bc" stroke="#e8e8e8" stroke-width="0.5"/>
<circle cx="654" cy="340" r="2.2" fill="#b8b8bc" stroke="#e8e8e8" stroke-width="0.5"/>
</g>
<path d="M484.5,321.8 Q491.4,322.8 498.3,322.2 Q503.6,323.4 508.8,323.0 Q515.1,322.3 521.4,321.7 Q525.9,321.8 530.4,322.5 Q535.2,323.4 539.9,321.7 Q545.2,320.5 550.6,323.5 Q557.6,323.7 564.7,322.6 Q569.4,321.6 574.0,322.3 Q578.9,324.0 583.8,322.0 Q588.8,323.5 593.9,321.4 Q601.6,322.1 609.4,322.4 Q615.1,322.2 620.8,321.5 Q625.4,323.7 630.0,321.7 Q637.3,321.2 644.5,323.4 Q650.7,323.3 657.0,322.9" fill="none" stroke="#0a0a0a" stroke-width="1.7"/>
<path d="M484.5,324.3 Q491.6,322.5 498.6,324.1 Q506.0,322.9 513.4,325.4 Q521.0,323.8 528.6,323.8 Q534.7,323.7 540.8,325.6 Q546.6,322.1 552.5,323.1 Q559.5,326.4 566.5,324.2 Q572.7,324.4 578.9,324.9 Q584.2,324.7 589.5,324.4 Q596.2,322.8 602.9,323.3 Q608.6,326.1 614.3,323.8 Q620.9,323.3 627.5,323.1 Q632.2,325.6 636.9,325.0 Q642.7,325.0 648.6,324.7 Q652.8,326.3 657.0,323.9" fill="none" stroke="#0a0a0a" stroke-width="1.7"/>
<path d="M484.5,327.1 Q492.4,326.7 500.2,327.3 Q506.4,325.8 512.7,325.6 Q520.2,324.9 527.8,325.2 Q535.1,327.4 542.4,326.3 Q549.9,324.4 557.3,325.7 Q562.8,326.0 568.3,325.4 Q573.1,325.6 577.8,327.3 Q585.8,327.3 593.7,326.2 Q599.1,328.2 604.5,326.4 Q611.5,324.3 618.6,325.6 Q626.0,327.5 633.4,327.3 Q640.0,326.0 646.6,326.5 Q651.8,325.5 657.0,326.4" fill="none" stroke="#0a0a0a" stroke-width="1.7"/>
<path d="M484.5,328.0 Q491.7,326.5 498.9,328.8 Q506.7,326.6 514.6,328.6 Q521.3,329.8 528.1,328.6 Q533.5,328.0 538.9,329.5 Q546.5,327.0 554.2,327.4 Q559.0,326.6 563.9,328.3 Q568.9,329.8 573.8,328.8 Q578.8,328.5 583.7,328.0 Q590.0,327.3 596.2,327.6 Q601.3,327.9 606.5,328.9 Q612.9,326.7 619.3,328.9 Q626.9,329.5 634.4,329.1 Q639.0,328.3 643.5,327.4 Q650.2,327.2 657.0,328.9" fill="none" stroke="#0a0a0a" stroke-width="1.7"/>
<path d="M484.5,329.8 Q491.4,329.6 498.4,329.3 Q504.2,329.6 510.1,331.0 Q515.6,330.2 521.2,330.3 Q529.0,328.9 536.8,330.4 Q543.1,331.0 549.4,331.1 Q554.9,330.8 560.5,330.3 Q567.0,328.8 573.5,330.8 Q581.4,329.7 589.3,329.8 Q597.3,328.9 605.2,329.4 Q610.0,331.2 614.8,330.7 Q620.8,330.6 626.9,329.2 Q633.7,330.0 640.4,330.2 Q646.3,329.9 652.1,329.7 Q654.6,330.0 657.0,329.7" fill="none" stroke="#0a0a0a" stroke-width="1.3"/>
<path d="M488,338.3 C493,336.5 498,340 505,337.8" fill="none" stroke="#0a0a0a" stroke-width="1.6"/>
<path d="M522,339.6 C528,337.5 534,341.5 540.4,339" fill="none" stroke="#0a0a0a" stroke-width="1.6"/>
<path d="M549.6,333.7 C554,332 559,335.5 564,333.2" fill="none" stroke="#0a0a0a" stroke-width="1.6"/>
<path d="M600,338.5 C606,336.5 611,340.5 617,338" fill="none" stroke="#0a0a0a" stroke-width="1.6"/>
<path d="M632,334 C637,332 642,336 647,333.5" fill="none" stroke="#0a0a0a" stroke-width="1.6"/>
<path d="M650,325 L657,319.5" fill="none" stroke="#0a0a0a" stroke-width="1.6"/>
<path d="M545,324 L562,320.5" fill="none" stroke="#0a0a0a" stroke-width="1.4"/>
<circle cx="489.2" cy="325.8" r="2.4" fill="#5ccc7c" stroke="#c8f0d0" stroke-width="0.6"/>
<circle cx="504.3" cy="326.5" r="2.4" fill="#5ccc7c" stroke="#c8f0d0" stroke-width="0.6"/>
<circle cx="524.7" cy="325.1" r="2.4" fill="#5ccc7c" stroke="#c8f0d0" stroke-width="0.6"/>
<circle cx="555.6" cy="325.1" r="2.4" fill="#5ccc7c" stroke="#c8f0d0" stroke-width="0.6"/>
<circle cx="590" cy="325.5" r="2.4" fill="#5ccc7c" stroke="#c8f0d0" stroke-width="0.6"/>
<circle cx="628" cy="325" r="2.4" fill="#5ccc7c" stroke="#c8f0d0" stroke-width="0.6"/>
<circle cx="650" cy="324.5" r="2.4" fill="#5ccc7c" stroke="#c8f0d0" stroke-width="0.6"/>
<circle cx="485.9" cy="328.4" r="2" fill="#b8b8bc" stroke="#eee" stroke-width="0.5"/>
<circle cx="537.8" cy="325.8" r="2" fill="#b8b8bc" stroke="#eee" stroke-width="0.5"/>
<circle cx="604" cy="325.5" r="2" fill="#b8b8bc" stroke="#eee" stroke-width="0.5"/>
<ellipse cx="624.2" cy="331.2" rx="17.7" ry="12.3" fill="none" stroke="#111" stroke-width="1"/>
<line x1="622.5" y1="344" x2="601.05" y2="370.39" stroke="#000" stroke-width="1.8"/><polygon points="596,376.6 598.26,367.48 604.47,372.53" fill="#000"/>
<text x="552.6" y="389.2" font-size="10.7" font-weight="bold" fill="#3b66a3">Derived SEI</text>
<circle cx="478" cy="286.6" r="2.5" fill="#4a94cc" stroke="#2e6a9e" stroke-width="0.8"/>
<text x="484.1" y="290" font-size="10.7" font-weight="bold" fill="#4b84b4">ZnF<tspan font-size="6.5" dy="2.2">2</tspan><tspan dy="-2.2">​</tspan></text>
<circle cx="477.8" cy="303.9" r="2.3" fill="#c8f0d0" stroke="#49b26a" stroke-width="1"/>
<text x="484.1" y="308" font-size="10.7" font-weight="bold" fill="#3ea462">Zn<tspan font-size="6.5" dy="2.2">5</tspan><tspan dy="-2.2">​</tspan>(CO<tspan font-size="6.5" dy="2.2">3</tspan><tspan dy="-2.2">​</tspan>)<tspan font-size="6.5" dy="2.2">2</tspan><tspan dy="-2.2">​</tspan>(OH)<tspan font-size="6.5" dy="2.2">6</tspan><tspan dy="-2.2">​</tspan></text>
<circle cx="604.2" cy="286.6" r="2.3" fill="#ececec" stroke="#909090" stroke-width="1.3"/>
<text x="613" y="290" font-size="10.7" font-weight="bold" fill="#111">sulfide</text>
<path d="M598.2,304.8 C600.5,301.2 603,301.8 604.2,303.6 C605.6,305.8 607.5,304.4 610,302" fill="none" stroke="#111" stroke-width="2.8" stroke-linecap="round"/>
<text x="613" y="305.8" font-size="10.7" font-weight="bold" fill="#111">organism</text>
<text x="94.9" y="378.3" font-size="10.9" font-weight="bold" font-style="italic" fill="#111">Zn+2H<tspan font-size="6.5" dy="2.2">2</tspan><tspan dy="-2.2">​</tspan>O</text>
<line x1="143.3" y1="375" x2="161" y2="375" stroke="#000" stroke-width="1.4"/><polygon points="168.5,375 160.5,378.25 160.5,371.75" fill="#000"/>
<text x="172.4" y="378.3" font-size="10.9" font-weight="bold" font-style="italic" fill="#111">Zn<tspan font-size="6.5" dy="-3.8">2+</tspan><tspan dy="3.8">​</tspan>+H<tspan font-size="6.5" dy="2.2">2</tspan><tspan dy="-2.2">​</tspan>+2OH<tspan font-size="6.5" dy="-3.8">−</tspan><tspan dy="3.8">​</tspan></text>
<text x="95.4" y="390.9" font-size="10.9" font-weight="bold" font-style="italic" fill="#111">5Zn<tspan font-size="6.5" dy="-3.8">2+</tspan><tspan dy="3.8">​</tspan>+5OH<tspan font-size="6.5" dy="-3.8">−</tspan><tspan dy="3.8">​</tspan>+2NO<tspan font-size="6.5" dy="2.2">3</tspan><tspan dy="-2.2">​</tspan><tspan font-size="6.5" dy="-3.8">−</tspan><tspan dy="3.8">​</tspan>+5H<tspan font-size="6.5" dy="2.2">2</tspan><tspan dy="-2.2">​</tspan>O</text>
<line x1="224.3" y1="387.6" x2="246" y2="387.6" stroke="#000" stroke-width="1.4"/><polygon points="253.5,387.6 245.5,390.85 245.5,384.35" fill="#000"/>
<text x="254.8" y="390.9" font-size="10.9" font-weight="bold" font-style="italic" fill="#111">Zn<tspan font-size="6.5" dy="2.2">5</tspan><tspan dy="-2.2">​</tspan>(OH)<tspan font-size="6.5" dy="2.2">8</tspan><tspan dy="-2.2">​</tspan>(NO<tspan font-size="6.5" dy="2.2">3</tspan><tspan dy="-2.2">​</tspan>)<tspan font-size="6.5" dy="2.2">2</tspan><tspan dy="-2.2">​</tspan>·2H<tspan font-size="6.5" dy="2.2">2</tspan><tspan dy="-2.2">​</tspan>O+3H<tspan font-size="6.5" dy="-3.8">+</tspan><tspan dy="3.8">​</tspan></text>
<text x="274.8" y="407.9" font-size="10.9" font-weight="bold" font-style="italic" fill="#111">Zn<tspan font-size="6.5" dy="2.2">5</tspan><tspan dy="-2.2">​</tspan>(OH)<tspan font-size="6.5" dy="2.2">8</tspan><tspan dy="-2.2">​</tspan>(NO<tspan font-size="6.5" dy="2.2">3</tspan><tspan dy="-2.2">​</tspan>)<tspan font-size="6.5" dy="2.2">2</tspan><tspan dy="-2.2">​</tspan>·2H<tspan font-size="6.5" dy="2.2">2</tspan><tspan dy="-2.2">​</tspan>O+2CO<tspan font-size="6.5" dy="2.2">3</tspan><tspan dy="-2.2">​</tspan><tspan font-size="6.5" dy="-3.8">2−</tspan><tspan dy="3.8">​</tspan></text>
<line x1="422.5" y1="404.6" x2="445.3" y2="404.6" stroke="#000" stroke-width="1.4"/><polygon points="452.8,404.6 444.8,407.85 444.8,401.35" fill="#000"/>
<text x="453" y="407.9" font-size="10.9" font-weight="bold" font-style="italic" fill="#111">Zn<tspan font-size="6.5" dy="2.2">5</tspan><tspan dy="-2.2">​</tspan>(CO<tspan font-size="6.5" dy="2.2">3</tspan><tspan dy="-2.2">​</tspan>)<tspan font-size="6.5" dy="2.2">2</tspan><tspan dy="-2.2">​</tspan>(OH)<tspan font-size="6.5" dy="2.2">6</tspan><tspan dy="-2.2">​</tspan>+2H<tspan font-size="6.5" dy="2.2">2</tspan><tspan dy="-2.2">​</tspan>O+2OH<tspan font-size="6.5" dy="-3.8">−</tspan><tspan dy="3.8">​</tspan>+2NO<tspan font-size="6.5" dy="2.2">3</tspan><tspan dy="-2.2">​</tspan><tspan font-size="6.5" dy="-3.8">−</tspan><tspan dy="3.8">​</tspan></text>
<defs>
<linearGradient id="slabV" x1="0" y1="0" x2="0" y2="1">
 <stop offset="0" stop-color="#a5a1a2"/><stop offset="0.25" stop-color="#adaaab"/><stop offset="0.5" stop-color="#c3bfc1"/><stop offset="0.65" stop-color="#d2ced0"/><stop offset="0.85" stop-color="#cdc9cb"/><stop offset="1" stop-color="#c9c5c7"/>
</linearGradient>
<linearGradient id="slabR" x1="0" y1="0" x2="0" y2="1">
 <stop offset="0" stop-color="#d3d1d2"/><stop offset="0.3" stop-color="#cfcdce"/><stop offset="0.5" stop-color="#c7c5c6"/><stop offset="0.7" stop-color="#c2c0c1"/><stop offset="1" stop-color="#cac8c9"/>
</linearGradient>
<linearGradient id="slabMg" x1="0" y1="0" x2="1" y2="0">
 <stop offset="0" stop-color="#000"/><stop offset="0.4" stop-color="#1a1a1a"/><stop offset="0.6" stop-color="#b0b0b0"/><stop offset="0.75" stop-color="#fff"/><stop offset="1" stop-color="#fff"/>
</linearGradient>
<mask id="slabM" maskUnits="userSpaceOnUse" x="0" y="520" width="685" height="42"><rect x="8" y="527" width="677" height="35" fill="url(#slabMg)"/></mask>
<linearGradient id="slabH" x1="0" y1="0" x2="1" y2="0">
 <stop offset="0" stop-color="#000" stop-opacity="0.06"/><stop offset="0.5" stop-color="#fff" stop-opacity="0"/><stop offset="1" stop-color="#fff" stop-opacity="0.22"/>
</linearGradient>
<radialGradient id="sph" cx="0.45" cy="0.3" r="0.75">
 <stop offset="0" stop-color="#cfcfcf"/><stop offset="0.6" stop-color="#9a9a9a"/><stop offset="1" stop-color="#6e6e6e"/>
</radialGradient>
<radialGradient id="bub" cx="0.5" cy="0.5" r="0.5">
 <stop offset="0.45" stop-color="#ffffff"/><stop offset="0.75" stop-color="#c6e4f6"/><stop offset="1" stop-color="#7fbde6"/>
</radialGradient>
<radialGradient id="yel" cx="0.4" cy="0.35" r="0.65">
 <stop offset="0" stop-color="#fffbb0"/><stop offset="0.6" stop-color="#ece040"/><stop offset="1" stop-color="#c8b820"/>
</radialGradient>
<radialGradient id="gzn" cx="0.45" cy="0.45" r="0.6">
 <stop offset="0" stop-color="#f0f0f0"/><stop offset="0.35" stop-color="#8a8888"/><stop offset="1" stop-color="#4a4848"/>
</radialGradient>
<radialGradient id="oxg" cx="0.4" cy="0.35" r="0.65"><stop offset="0" stop-color="#ff9a9a"/><stop offset="0.5" stop-color="#e82020"/><stop offset="1" stop-color="#b81010"/></radialGradient>
<linearGradient id="glow2" x1="1" y1="1" x2="0" y2="0"><stop offset="0" stop-color="#ffd070" stop-opacity="0.9"/><stop offset="1" stop-color="#ffe8b0" stop-opacity="0"/></linearGradient>
<linearGradient id="glow" x1="0" y1="1" x2="0" y2="0">
 <stop offset="0" stop-color="#ffd070" stop-opacity="0.9"/><stop offset="1" stop-color="#ffe0a0" stop-opacity="0"/>
</linearGradient>
<pattern id="pasv" width="4" height="2.4" patternUnits="userSpaceOnUse">
 <rect width="4" height="2.4" fill="#4f7fcf"/><rect x="0" y="0.9" width="2.2" height="0.7" fill="#a8c4f0"/><rect x="2.4" y="0" width="1" height="0.6" fill="#2f5fb0"/>
</pattern>
</defs>
<path d="M9.2,437 Q9.2,421 26,421 H661 Q683,421 683,443 V530 H9.2 Z" fill="#eaf6fc"/>
<clipPath id="bgclip"><path d="M9.2,437 Q9.2,421 26,421 H661 Q683,421 683,443 V530 H9.2 Z"/></clipPath><g opacity="0.9" clip-path="url(#bgclip)"><ellipse cx="226.97" cy="438.69" rx="2.7" ry="1.89" fill="#d9eef9"/><ellipse cx="560.25" cy="432.79" rx="2.54" ry="1.78" fill="#f2f9fd"/><ellipse cx="153.85" cy="431.94" rx="2.16" ry="1.51" fill="#f5fbfe"/><ellipse cx="70.78" cy="467.15" rx="3.1" ry="2.17" fill="#d9eef9"/><ellipse cx="644.79" cy="488.59" rx="2.54" ry="1.78" fill="#d9eef9"/><ellipse cx="396.66" cy="464.25" rx="3.45" ry="2.41" fill="#d9eef9"/><ellipse cx="382.97" cy="436.85" rx="2.16" ry="1.51" fill="#f2f9fd"/><ellipse cx="88.92" cy="455.08" rx="3.08" ry="2.15" fill="#f5fbfe"/><ellipse cx="79.05" cy="482.41" rx="1.63" ry="1.14" fill="#d9eef9"/><ellipse cx="376.99" cy="429.53" rx="1.34" ry="0.94" fill="#f5fbfe"/><ellipse cx="342.6" cy="478.3" rx="2.99" ry="2.09" fill="#d6ecf8"/><ellipse cx="402.33" cy="470.13" rx="1.89" ry="1.32" fill="#f5fbfe"/><ellipse cx="478.33" cy="448.39" rx="2.52" ry="1.76" fill="#f2f9fd"/><ellipse cx="341.73" cy="458.72" rx="2.23" ry="1.56" fill="#f2f9fd"/><ellipse cx="666.72" cy="435.28" rx="2.16" ry="1.51" fill="#dbeff9"/><ellipse cx="111.83" cy="473.85" rx="1.29" ry="0.9" fill="#d9eef9"/><ellipse cx="522.26" cy="482.59" rx="3.21" ry="2.25" fill="#dbeff9"/><ellipse cx="237.88" cy="459.42" rx="2.34" ry="1.64" fill="#d6ecf8"/><ellipse cx="56.07" cy="432.73" rx="1.82" ry="1.27" fill="#d9eef9"/><ellipse cx="50.65" cy="495.96" rx="2.69" ry="1.88" fill="#d6ecf8"/><ellipse cx="200.68" cy="463.12" rx="2.74" ry="1.92" fill="#d9eef9"/><ellipse cx="640.23" cy="459.97" rx="2.61" ry="1.82" fill="#d6ecf8"/><ellipse cx="49.5" cy="502.9" rx="1.5" ry="1.05" fill="#f5fbfe"/><ellipse cx="276.59" cy="518.35" rx="2.34" ry="1.64" fill="#f5fbfe"/><ellipse cx="310.96" cy="480.14" rx="3.23" ry="2.26" fill="#d6ecf8"/><ellipse cx="588.87" cy="451.96" rx="2.16" ry="1.51" fill="#dbeff9"/><ellipse cx="467.42" cy="462.57" rx="1.73" ry="1.21" fill="#d9eef9"/><ellipse cx="128.07" cy="447.12" rx="1.74" ry="1.22" fill="#d6ecf8"/><ellipse cx="566.83" cy="441.96" rx="1.85" ry="1.29" fill="#f5fbfe"/><ellipse cx="290.69" cy="461.4" rx="2.5" ry="1.75" fill="#f5fbfe"/><ellipse cx="472.63" cy="476.61" rx="2.62" ry="1.83" fill="#d9eef9"/><ellipse cx="315.95" cy="513.58" rx="3.39" ry="2.37" fill="#f2f9fd"/><ellipse cx="272.89" cy="464.49" rx="1.44" ry="1.01" fill="#d6ecf8"/><ellipse cx="51.71" cy="430" rx="1.68" ry="1.18" fill="#f5fbfe"/><ellipse cx="83.65" cy="485.48" rx="1.44" ry="1" fill="#f2f9fd"/><ellipse cx="111.35" cy="433.55" rx="2.04" ry="1.43" fill="#d9eef9"/><ellipse cx="57.11" cy="444.63" rx="2.07" ry="1.45" fill="#dbeff9"/><ellipse cx="650.16" cy="485.64" rx="2.29" ry="1.6" fill="#d9eef9"/><ellipse cx="578.79" cy="526.28" rx="2.27" ry="1.59" fill="#d6ecf8"/><ellipse cx="218.94" cy="437.99" rx="2.92" ry="2.05" fill="#dbeff9"/><ellipse cx="330.68" cy="494.97" rx="2.39" ry="1.67" fill="#f5fbfe"/><ellipse cx="647.16" cy="477.94" rx="1.54" ry="1.08" fill="#f2f9fd"/><ellipse cx="622.48" cy="501.85" rx="1.89" ry="1.32" fill="#d9eef9"/><ellipse cx="476.45" cy="450.16" rx="2.04" ry="1.43" fill="#f5fbfe"/><ellipse cx="248.32" cy="446.17" rx="2.45" ry="1.71" fill="#f2f9fd"/><ellipse cx="230.88" cy="446.2" rx="3.07" ry="2.15" fill="#f5fbfe"/><ellipse cx="550.07" cy="508.11" rx="2.9" ry="2.03" fill="#f5fbfe"/><ellipse cx="143.95" cy="474.25" rx="2.88" ry="2.02" fill="#d9eef9"/><ellipse cx="539.38" cy="472.11" rx="1.65" ry="1.15" fill="#f2f9fd"/><ellipse cx="650.87" cy="469.51" rx="3.36" ry="2.35" fill="#dbeff9"/><ellipse cx="649.85" cy="460.92" rx="1.71" ry="1.19" fill="#f5fbfe"/><ellipse cx="324.95" cy="458.12" rx="2.31" ry="1.62" fill="#f2f9fd"/><ellipse cx="573.09" cy="472.87" rx="2.7" ry="1.89" fill="#d9eef9"/><ellipse cx="569.21" cy="435.47" rx="2.09" ry="1.47" fill="#f5fbfe"/><ellipse cx="330.28" cy="441.57" rx="3.02" ry="2.11" fill="#dbeff9"/><ellipse cx="68.12" cy="521.4" rx="2.86" ry="2" fill="#d6ecf8"/><ellipse cx="278.93" cy="521.47" rx="2.87" ry="2.01" fill="#f5fbfe"/><ellipse cx="675.39" cy="425.87" rx="2.56" ry="1.79" fill="#d6ecf8"/><ellipse cx="550.36" cy="438.2" rx="3.1" ry="2.17" fill="#d6ecf8"/><ellipse cx="450.37" cy="459.44" rx="2.46" ry="1.72" fill="#f5fbfe"/><ellipse cx="24.34" cy="506.13" rx="2.87" ry="2.01" fill="#d9eef9"/><ellipse cx="362.81" cy="520.1" rx="2.2" ry="1.54" fill="#f5fbfe"/><ellipse cx="563.52" cy="444.95" rx="1.78" ry="1.25" fill="#dbeff9"/><ellipse cx="345.78" cy="502.42" rx="1.95" ry="1.36" fill="#f2f9fd"/><ellipse cx="290.74" cy="436.63" rx="3.29" ry="2.31" fill="#dbeff9"/><ellipse cx="611.46" cy="491.9" rx="3.07" ry="2.15" fill="#f2f9fd"/><ellipse cx="291.82" cy="518.44" rx="2.35" ry="1.65" fill="#f2f9fd"/><ellipse cx="111.73" cy="476.1" rx="3.21" ry="2.25" fill="#f5fbfe"/><ellipse cx="417.73" cy="503.71" rx="1.54" ry="1.08" fill="#f5fbfe"/><ellipse cx="327.24" cy="498.42" rx="2.48" ry="1.74" fill="#dbeff9"/><ellipse cx="467.16" cy="478.2" rx="2.31" ry="1.62" fill="#d9eef9"/><ellipse cx="601.76" cy="428.91" rx="1.64" ry="1.15" fill="#d9eef9"/><ellipse cx="527.41" cy="475.8" rx="2.49" ry="1.74" fill="#d9eef9"/><ellipse cx="306.98" cy="486.7" rx="2.36" ry="1.65" fill="#f2f9fd"/><ellipse cx="143.6" cy="451.83" rx="2.37" ry="1.66" fill="#d6ecf8"/><ellipse cx="350.19" cy="448.76" rx="2.4" ry="1.68" fill="#dbeff9"/><ellipse cx="628.27" cy="515.85" rx="1.67" ry="1.17" fill="#d6ecf8"/><ellipse cx="101.88" cy="435.65" rx="2.22" ry="1.55" fill="#d9eef9"/><ellipse cx="459.67" cy="467.55" rx="1.69" ry="1.18" fill="#dbeff9"/><ellipse cx="535.24" cy="516.29" rx="1.56" ry="1.09" fill="#dbeff9"/><ellipse cx="105.8" cy="514.81" rx="3.43" ry="2.4" fill="#f5fbfe"/><ellipse cx="510.28" cy="432.79" rx="3.24" ry="2.26" fill="#f5fbfe"/><ellipse cx="673.21" cy="509.57" rx="1.57" ry="1.1" fill="#d6ecf8"/><ellipse cx="676.03" cy="465" rx="2.17" ry="1.52" fill="#dbeff9"/><ellipse cx="223.41" cy="498.1" rx="1.24" ry="0.87" fill="#f2f9fd"/><ellipse cx="317.31" cy="496.13" rx="2.08" ry="1.46" fill="#f2f9fd"/><ellipse cx="428.03" cy="476.28" rx="1.35" ry="0.94" fill="#f5fbfe"/><ellipse cx="661.04" cy="433.9" rx="1.81" ry="1.27" fill="#d9eef9"/><ellipse cx="616.95" cy="441.88" rx="2.94" ry="2.06" fill="#d6ecf8"/><ellipse cx="579.22" cy="493.3" rx="3.38" ry="2.36" fill="#d6ecf8"/><ellipse cx="110.08" cy="518.59" rx="2.51" ry="1.76" fill="#dbeff9"/><ellipse cx="69.94" cy="428.98" rx="2.78" ry="1.95" fill="#d6ecf8"/><ellipse cx="609.84" cy="450.97" rx="1.24" ry="0.87" fill="#d9eef9"/><ellipse cx="547.09" cy="431.71" rx="3.17" ry="2.22" fill="#d9eef9"/><ellipse cx="187.18" cy="435.65" rx="1.23" ry="0.86" fill="#f2f9fd"/><ellipse cx="289.9" cy="518.2" rx="2.63" ry="1.84" fill="#d9eef9"/><ellipse cx="363.03" cy="447.8" rx="1.45" ry="1.02" fill="#f5fbfe"/><ellipse cx="185.47" cy="441.84" rx="3.34" ry="2.34" fill="#dbeff9"/><ellipse cx="365.83" cy="444.41" rx="2.23" ry="1.56" fill="#f5fbfe"/><ellipse cx="191.25" cy="506.58" rx="3.49" ry="2.44" fill="#d9eef9"/><ellipse cx="20.28" cy="499.24" rx="2.47" ry="1.73" fill="#f5fbfe"/><ellipse cx="354.54" cy="448.55" rx="2.23" ry="1.56" fill="#d6ecf8"/><ellipse cx="449.86" cy="479.77" rx="3.24" ry="2.27" fill="#f2f9fd"/><ellipse cx="216.21" cy="445.38" rx="1.73" ry="1.21" fill="#f5fbfe"/><ellipse cx="567.63" cy="496.5" rx="2.66" ry="1.86" fill="#d6ecf8"/><ellipse cx="672.92" cy="525.12" rx="3.13" ry="2.19" fill="#d9eef9"/><ellipse cx="57.38" cy="500.05" rx="1.79" ry="1.25" fill="#f5fbfe"/><ellipse cx="47.12" cy="492.18" rx="2.08" ry="1.45" fill="#f2f9fd"/><ellipse cx="459.26" cy="452.32" rx="1.76" ry="1.23" fill="#dbeff9"/><ellipse cx="40.31" cy="442.28" rx="1.82" ry="1.27" fill="#d9eef9"/><ellipse cx="186.37" cy="523.03" rx="3.44" ry="2.41" fill="#f2f9fd"/><ellipse cx="226.77" cy="426.58" rx="3.23" ry="2.26" fill="#f5fbfe"/><ellipse cx="248.91" cy="423.11" rx="2.08" ry="1.45" fill="#d6ecf8"/><ellipse cx="196.88" cy="491.23" rx="1.77" ry="1.24" fill="#d9eef9"/><ellipse cx="70.87" cy="507.97" rx="1.53" ry="1.07" fill="#f2f9fd"/><ellipse cx="37.92" cy="425.34" rx="1.9" ry="1.33" fill="#f5fbfe"/><ellipse cx="66.6" cy="522.59" rx="3.16" ry="2.21" fill="#f5fbfe"/><ellipse cx="450.55" cy="497.46" rx="3.22" ry="2.26" fill="#d6ecf8"/><ellipse cx="522.09" cy="497.95" rx="2.34" ry="1.64" fill="#dbeff9"/><ellipse cx="495.18" cy="489.89" rx="1.3" ry="0.91" fill="#f2f9fd"/><ellipse cx="430.31" cy="499.32" rx="3.07" ry="2.15" fill="#f5fbfe"/><ellipse cx="619.62" cy="501.3" rx="2.51" ry="1.76" fill="#d9eef9"/><ellipse cx="563.69" cy="483.74" rx="3.25" ry="2.28" fill="#f5fbfe"/><ellipse cx="67.01" cy="427.35" rx="2.67" ry="1.87" fill="#d9eef9"/><ellipse cx="262.33" cy="469.94" rx="1.32" ry="0.92" fill="#d9eef9"/><ellipse cx="429.57" cy="493.79" rx="2.33" ry="1.63" fill="#d9eef9"/><ellipse cx="316.16" cy="430.29" rx="3.34" ry="2.34" fill="#f2f9fd"/><ellipse cx="71.6" cy="477.7" rx="2.92" ry="2.04" fill="#d6ecf8"/><ellipse cx="178.97" cy="430.74" rx="1.81" ry="1.27" fill="#f5fbfe"/><ellipse cx="164.59" cy="490.59" rx="2.26" ry="1.58" fill="#d6ecf8"/><ellipse cx="61.42" cy="517.69" rx="1.86" ry="1.3" fill="#d9eef9"/><ellipse cx="423.37" cy="489.85" rx="1.38" ry="0.96" fill="#f5fbfe"/><ellipse cx="232.29" cy="490.76" rx="2.79" ry="1.96" fill="#f2f9fd"/><ellipse cx="390.4" cy="424.3" rx="1.34" ry="0.94" fill="#dbeff9"/><ellipse cx="661.58" cy="433.35" rx="1.7" ry="1.19" fill="#d6ecf8"/><ellipse cx="204.87" cy="476.72" rx="2.27" ry="1.59" fill="#d6ecf8"/><ellipse cx="524" cy="526.3" rx="2.46" ry="1.72" fill="#dbeff9"/><ellipse cx="665.34" cy="520.37" rx="1.24" ry="0.87" fill="#d6ecf8"/><ellipse cx="61.23" cy="475.69" rx="3.49" ry="2.44" fill="#dbeff9"/><ellipse cx="269.19" cy="518.32" rx="3.34" ry="2.34" fill="#d9eef9"/><ellipse cx="399.59" cy="437.74" rx="2.41" ry="1.68" fill="#dbeff9"/><ellipse cx="98.85" cy="508.3" rx="2.37" ry="1.66" fill="#d9eef9"/><ellipse cx="481.24" cy="447.06" rx="3.26" ry="2.29" fill="#d6ecf8"/><ellipse cx="274.03" cy="439.54" rx="3.38" ry="2.37" fill="#d6ecf8"/><ellipse cx="281.63" cy="498.63" rx="2.16" ry="1.51" fill="#d6ecf8"/><ellipse cx="221.77" cy="510.38" rx="1.2" ry="0.84" fill="#dbeff9"/><ellipse cx="572.2" cy="435.48" rx="3.33" ry="2.33" fill="#d9eef9"/><ellipse cx="614.05" cy="453.14" rx="2.06" ry="1.44" fill="#d6ecf8"/><ellipse cx="271.41" cy="513.48" rx="1.38" ry="0.96" fill="#d6ecf8"/><ellipse cx="516.29" cy="511.84" rx="1.85" ry="1.29" fill="#d9eef9"/><ellipse cx="569.23" cy="452.7" rx="3.35" ry="2.35" fill="#f5fbfe"/><ellipse cx="660.6" cy="468.37" rx="1.93" ry="1.35" fill="#dbeff9"/><ellipse cx="536.05" cy="467.49" rx="1.27" ry="0.89" fill="#d6ecf8"/><ellipse cx="621.99" cy="520.83" rx="2.46" ry="1.72" fill="#d9eef9"/><ellipse cx="43.15" cy="499.16" rx="2.24" ry="1.57" fill="#f5fbfe"/><ellipse cx="441.81" cy="452.77" rx="1.31" ry="0.92" fill="#f2f9fd"/><ellipse cx="95.3" cy="472.11" rx="1.99" ry="1.39" fill="#dbeff9"/><ellipse cx="181.35" cy="499.83" rx="2.7" ry="1.89" fill="#d6ecf8"/><ellipse cx="449.52" cy="454.29" rx="2.48" ry="1.74" fill="#d6ecf8"/><ellipse cx="90.23" cy="489.89" rx="1.37" ry="0.96" fill="#f2f9fd"/><ellipse cx="616.99" cy="474.7" rx="1.71" ry="1.19" fill="#dbeff9"/><ellipse cx="677.64" cy="469.8" rx="1.52" ry="1.06" fill="#f5fbfe"/><ellipse cx="173.54" cy="441.17" rx="2.48" ry="1.73" fill="#dbeff9"/><ellipse cx="170.21" cy="449.87" rx="2.51" ry="1.76" fill="#d9eef9"/><ellipse cx="512.27" cy="465.93" rx="2.15" ry="1.51" fill="#f2f9fd"/><ellipse cx="150.7" cy="451.1" rx="2.93" ry="2.05" fill="#d6ecf8"/><ellipse cx="195.94" cy="523.64" rx="1.49" ry="1.04" fill="#f2f9fd"/><ellipse cx="364.58" cy="505.19" rx="3.15" ry="2.21" fill="#d9eef9"/><ellipse cx="191.58" cy="448.84" rx="2.12" ry="1.48" fill="#d6ecf8"/><ellipse cx="299.33" cy="455.45" rx="3.07" ry="2.15" fill="#d9eef9"/><ellipse cx="95.26" cy="467.22" rx="2.96" ry="2.07" fill="#d6ecf8"/><ellipse cx="658.75" cy="473.94" rx="1.37" ry="0.96" fill="#f2f9fd"/><ellipse cx="583.16" cy="524.11" rx="1.77" ry="1.24" fill="#d9eef9"/><ellipse cx="159.95" cy="438.82" rx="3.44" ry="2.4" fill="#d9eef9"/><ellipse cx="640.8" cy="498.06" rx="2.69" ry="1.88" fill="#d6ecf8"/><ellipse cx="66.95" cy="503.79" rx="1.2" ry="0.84" fill="#f5fbfe"/><ellipse cx="165.83" cy="518.67" rx="2.68" ry="1.88" fill="#dbeff9"/><ellipse cx="654.83" cy="488.15" rx="2.41" ry="1.69" fill="#d6ecf8"/><ellipse cx="478.05" cy="434.66" rx="1.36" ry="0.95" fill="#f2f9fd"/><ellipse cx="642.17" cy="442.94" rx="1.8" ry="1.26" fill="#f2f9fd"/><ellipse cx="10.77" cy="478.9" rx="3.49" ry="2.44" fill="#dbeff9"/><ellipse cx="652.49" cy="490.04" rx="3.23" ry="2.26" fill="#d6ecf8"/><ellipse cx="362.61" cy="479.89" rx="1.27" ry="0.89" fill="#d6ecf8"/><ellipse cx="482.12" cy="454.97" rx="1.25" ry="0.88" fill="#d6ecf8"/><ellipse cx="602.85" cy="490.31" rx="1.39" ry="0.97" fill="#f5fbfe"/><ellipse cx="457.13" cy="519.22" rx="1.72" ry="1.21" fill="#d9eef9"/><ellipse cx="476.2" cy="497.71" rx="2.03" ry="1.42" fill="#d6ecf8"/><ellipse cx="142.71" cy="505.89" rx="2.9" ry="2.03" fill="#f2f9fd"/><ellipse cx="55.18" cy="474.55" rx="1.66" ry="1.16" fill="#f5fbfe"/><ellipse cx="164.64" cy="446.03" rx="2.95" ry="2.06" fill="#dbeff9"/><ellipse cx="83.04" cy="487.85" rx="2.6" ry="1.82" fill="#f5fbfe"/><ellipse cx="334.99" cy="517.68" rx="1.33" ry="0.93" fill="#f2f9fd"/><ellipse cx="108.08" cy="463.92" rx="1.69" ry="1.18" fill="#f2f9fd"/><ellipse cx="105.08" cy="428.39" rx="1.34" ry="0.94" fill="#d6ecf8"/><ellipse cx="311.26" cy="497.05" rx="1.92" ry="1.35" fill="#d9eef9"/><ellipse cx="678.34" cy="519.89" rx="1.96" ry="1.37" fill="#f5fbfe"/><ellipse cx="447.15" cy="477.58" rx="2.28" ry="1.59" fill="#dbeff9"/><ellipse cx="455.17" cy="462.38" rx="2.06" ry="1.44" fill="#dbeff9"/><ellipse cx="306.43" cy="434.33" rx="1.38" ry="0.97" fill="#d9eef9"/><ellipse cx="245.48" cy="522.37" rx="1.48" ry="1.04" fill="#f5fbfe"/><ellipse cx="264.69" cy="502.95" rx="1.91" ry="1.34" fill="#d6ecf8"/><ellipse cx="68.8" cy="496.35" rx="1.65" ry="1.16" fill="#f2f9fd"/><ellipse cx="626.07" cy="443.07" rx="2.04" ry="1.43" fill="#d6ecf8"/><ellipse cx="30.29" cy="465.72" rx="3.07" ry="2.15" fill="#d6ecf8"/><ellipse cx="37.24" cy="426.62" rx="1.34" ry="0.94" fill="#d9eef9"/><ellipse cx="182.2" cy="500.72" rx="3.27" ry="2.29" fill="#dbeff9"/><ellipse cx="253.19" cy="457.84" rx="3.39" ry="2.38" fill="#d9eef9"/><ellipse cx="185.66" cy="497.53" rx="1.93" ry="1.35" fill="#dbeff9"/><ellipse cx="209.26" cy="498.04" rx="2.57" ry="1.8" fill="#d9eef9"/><ellipse cx="26.25" cy="447.32" rx="2.29" ry="1.61" fill="#d6ecf8"/><ellipse cx="649.12" cy="463.2" rx="1.78" ry="1.24" fill="#d6ecf8"/><ellipse cx="555.92" cy="436.8" rx="2.34" ry="1.64" fill="#d9eef9"/><ellipse cx="547.72" cy="499.8" rx="3.09" ry="2.16" fill="#f5fbfe"/><ellipse cx="416.86" cy="457.09" rx="1.93" ry="1.35" fill="#dbeff9"/><ellipse cx="535.17" cy="484.95" rx="2.38" ry="1.66" fill="#d6ecf8"/><ellipse cx="514.43" cy="448.72" rx="1.35" ry="0.94" fill="#d9eef9"/><ellipse cx="332.73" cy="479.64" rx="1.57" ry="1.1" fill="#d6ecf8"/><ellipse cx="601.93" cy="525.73" rx="1.81" ry="1.27" fill="#d9eef9"/><ellipse cx="149.59" cy="466.79" rx="3.47" ry="2.43" fill="#d6ecf8"/><ellipse cx="126.04" cy="436.82" rx="2.26" ry="1.58" fill="#f5fbfe"/><ellipse cx="511.14" cy="511.09" rx="2.73" ry="1.91" fill="#d9eef9"/><ellipse cx="532.43" cy="453.57" rx="1.84" ry="1.29" fill="#dbeff9"/><ellipse cx="259.89" cy="499.76" rx="1.66" ry="1.16" fill="#f5fbfe"/><ellipse cx="134.44" cy="447.49" rx="1.85" ry="1.29" fill="#f2f9fd"/><ellipse cx="136.13" cy="429.74" rx="1.78" ry="1.25" fill="#f5fbfe"/><ellipse cx="349.91" cy="447.06" rx="3.06" ry="2.14" fill="#d6ecf8"/><ellipse cx="673.94" cy="433.64" rx="2.29" ry="1.6" fill="#f5fbfe"/><ellipse cx="573.17" cy="518.1" rx="1.29" ry="0.9" fill="#dbeff9"/><ellipse cx="166.04" cy="428.24" rx="2.58" ry="1.81" fill="#f2f9fd"/><ellipse cx="140.09" cy="430.81" rx="2.38" ry="1.67" fill="#f5fbfe"/><ellipse cx="310.91" cy="450.03" rx="2.99" ry="2.09" fill="#d9eef9"/><ellipse cx="80.87" cy="485" rx="2.63" ry="1.84" fill="#f5fbfe"/><ellipse cx="35.09" cy="458.36" rx="1.3" ry="0.91" fill="#dbeff9"/><ellipse cx="35.62" cy="499.15" rx="3.3" ry="2.31" fill="#d9eef9"/><ellipse cx="558.62" cy="465.54" rx="2.06" ry="1.44" fill="#f2f9fd"/><ellipse cx="219.17" cy="444.15" rx="3.03" ry="2.12" fill="#f2f9fd"/><ellipse cx="333.95" cy="465.45" rx="3.03" ry="2.12" fill="#f2f9fd"/><ellipse cx="113.55" cy="478.54" rx="2.7" ry="1.89" fill="#d6ecf8"/><ellipse cx="475.92" cy="465.62" rx="1.85" ry="1.3" fill="#dbeff9"/><ellipse cx="289.96" cy="428.34" rx="2.91" ry="2.04" fill="#dbeff9"/><ellipse cx="287.43" cy="424.89" rx="2.96" ry="2.07" fill="#dbeff9"/><ellipse cx="441.8" cy="463.64" rx="2.13" ry="1.49" fill="#d9eef9"/><ellipse cx="300.89" cy="439.28" rx="1.46" ry="1.02" fill="#d9eef9"/><ellipse cx="282.17" cy="514.82" rx="2.26" ry="1.58" fill="#f5fbfe"/><ellipse cx="97.08" cy="428.38" rx="1.53" ry="1.07" fill="#d6ecf8"/><ellipse cx="69.65" cy="487.71" rx="2.05" ry="1.44" fill="#f2f9fd"/><ellipse cx="125.03" cy="459.19" rx="1.57" ry="1.1" fill="#f5fbfe"/><ellipse cx="630.08" cy="434.31" rx="2.33" ry="1.63" fill="#f5fbfe"/><ellipse cx="212.08" cy="510.08" rx="1.3" ry="0.91" fill="#d6ecf8"/><ellipse cx="220.73" cy="486.2" rx="2.66" ry="1.86" fill="#d9eef9"/><ellipse cx="615.83" cy="487.52" rx="3.1" ry="2.17" fill="#f5fbfe"/><ellipse cx="439.02" cy="512.09" rx="2.63" ry="1.84" fill="#f2f9fd"/><ellipse cx="577.06" cy="509.24" rx="1.62" ry="1.13" fill="#f5fbfe"/><ellipse cx="37.95" cy="520.61" rx="1.56" ry="1.09" fill="#dbeff9"/><ellipse cx="92.45" cy="448.69" rx="2.87" ry="2.01" fill="#f5fbfe"/><ellipse cx="37.54" cy="481.48" rx="2.94" ry="2.06" fill="#d9eef9"/><ellipse cx="457.49" cy="456.72" rx="2.1" ry="1.47" fill="#d6ecf8"/><ellipse cx="378.53" cy="488.21" rx="1.9" ry="1.33" fill="#d6ecf8"/><ellipse cx="216.5" cy="448.92" rx="2.1" ry="1.47" fill="#dbeff9"/><ellipse cx="309.35" cy="468.59" rx="1.25" ry="0.88" fill="#f2f9fd"/><ellipse cx="670.71" cy="471.39" rx="2.23" ry="1.56" fill="#f2f9fd"/><ellipse cx="532.58" cy="470.66" rx="1.61" ry="1.13" fill="#d6ecf8"/><ellipse cx="278.23" cy="429.98" rx="2.02" ry="1.42" fill="#dbeff9"/><ellipse cx="71.45" cy="468.96" rx="2.37" ry="1.66" fill="#d9eef9"/><ellipse cx="37.24" cy="436.55" rx="3.32" ry="2.32" fill="#dbeff9"/><ellipse cx="531.02" cy="476.19" rx="1.32" ry="0.93" fill="#f2f9fd"/><ellipse cx="609.56" cy="490.89" rx="3" ry="2.1" fill="#d9eef9"/><ellipse cx="584.24" cy="526.6" rx="2.88" ry="2.02" fill="#d9eef9"/><ellipse cx="139.78" cy="525.1" rx="2.33" ry="1.63" fill="#f5fbfe"/><ellipse cx="469.71" cy="497.99" rx="1.71" ry="1.2" fill="#dbeff9"/><ellipse cx="419" cy="449.23" rx="1.94" ry="1.36" fill="#f2f9fd"/><ellipse cx="194.25" cy="507.83" rx="1.53" ry="1.07" fill="#f2f9fd"/><ellipse cx="656.1" cy="472.93" rx="2.56" ry="1.79" fill="#f2f9fd"/><ellipse cx="349.02" cy="456.18" rx="1.28" ry="0.9" fill="#f5fbfe"/><ellipse cx="280.32" cy="489.2" rx="1.84" ry="1.29" fill="#dbeff9"/><ellipse cx="609.93" cy="440.55" rx="3.01" ry="2.1" fill="#d9eef9"/><ellipse cx="524.74" cy="428.05" rx="3.17" ry="2.22" fill="#d6ecf8"/><ellipse cx="381.97" cy="483.32" rx="3.23" ry="2.26" fill="#d9eef9"/><ellipse cx="178.86" cy="478.71" rx="3.17" ry="2.22" fill="#dbeff9"/><ellipse cx="187.39" cy="526.01" rx="2.53" ry="1.77" fill="#dbeff9"/><ellipse cx="231.66" cy="431.46" rx="1.73" ry="1.21" fill="#f2f9fd"/><ellipse cx="508.21" cy="428.02" rx="3.09" ry="2.16" fill="#dbeff9"/><ellipse cx="217.75" cy="523.46" rx="3.2" ry="2.24" fill="#dbeff9"/><ellipse cx="501.14" cy="500.7" rx="1.71" ry="1.2" fill="#dbeff9"/><ellipse cx="422.75" cy="467.95" rx="2.38" ry="1.67" fill="#d9eef9"/><ellipse cx="98.46" cy="446.64" rx="2.7" ry="1.89" fill="#d9eef9"/><ellipse cx="46.44" cy="481.98" rx="1.9" ry="1.33" fill="#f2f9fd"/><ellipse cx="249.29" cy="446.32" rx="2.54" ry="1.78" fill="#f2f9fd"/><ellipse cx="99.6" cy="461.09" rx="3.11" ry="2.17" fill="#f5fbfe"/><ellipse cx="100.28" cy="520.41" rx="1.76" ry="1.23" fill="#f5fbfe"/><ellipse cx="312.07" cy="429.62" rx="1.53" ry="1.07" fill="#dbeff9"/><ellipse cx="279.31" cy="450.48" rx="1.23" ry="0.86" fill="#f2f9fd"/><ellipse cx="608.09" cy="484.85" rx="2.53" ry="1.77" fill="#f2f9fd"/><ellipse cx="637.9" cy="499.29" rx="1.77" ry="1.24" fill="#d9eef9"/><ellipse cx="39.48" cy="478.28" rx="2.13" ry="1.49" fill="#f5fbfe"/><ellipse cx="116.68" cy="517.82" rx="1.44" ry="1.01" fill="#f2f9fd"/><ellipse cx="379.12" cy="520.86" rx="1.53" ry="1.07" fill="#f5fbfe"/><ellipse cx="357.23" cy="489.84" rx="2.69" ry="1.88" fill="#d6ecf8"/><ellipse cx="554.97" cy="441.16" rx="1.91" ry="1.34" fill="#dbeff9"/><ellipse cx="429.4" cy="526.38" rx="2.87" ry="2.01" fill="#d6ecf8"/><ellipse cx="489.32" cy="423.66" rx="3.14" ry="2.2" fill="#d6ecf8"/><ellipse cx="63.92" cy="491.18" rx="1.6" ry="1.12" fill="#d9eef9"/><ellipse cx="185.16" cy="489.98" rx="1.48" ry="1.04" fill="#dbeff9"/><ellipse cx="486.83" cy="450.66" rx="2.47" ry="1.73" fill="#d6ecf8"/><ellipse cx="469.44" cy="518.4" rx="3.44" ry="2.4" fill="#dbeff9"/><ellipse cx="440.14" cy="523.37" rx="1.7" ry="1.19" fill="#f2f9fd"/><ellipse cx="20.2" cy="450.08" rx="1.74" ry="1.22" fill="#f5fbfe"/><ellipse cx="642.95" cy="500.6" rx="1.95" ry="1.37" fill="#d6ecf8"/><ellipse cx="230.13" cy="447.87" rx="3.29" ry="2.3" fill="#f2f9fd"/><ellipse cx="324.56" cy="510.33" rx="2.8" ry="1.96" fill="#d9eef9"/><ellipse cx="302.93" cy="498.36" rx="2.51" ry="1.76" fill="#dbeff9"/><ellipse cx="538.77" cy="463.72" rx="2.55" ry="1.78" fill="#f2f9fd"/><ellipse cx="620.23" cy="438.04" rx="1.26" ry="0.88" fill="#d9eef9"/><ellipse cx="426.72" cy="439.83" rx="3.45" ry="2.41" fill="#d9eef9"/><ellipse cx="30.68" cy="437.39" rx="2.68" ry="1.88" fill="#d9eef9"/><ellipse cx="477" cy="499.63" rx="1.35" ry="0.95" fill="#f2f9fd"/><ellipse cx="520.38" cy="443.73" rx="3.4" ry="2.38" fill="#f2f9fd"/><ellipse cx="607.16" cy="429.86" rx="3.2" ry="2.24" fill="#d6ecf8"/><ellipse cx="81.77" cy="444.4" rx="1.46" ry="1.02" fill="#d9eef9"/><ellipse cx="646" cy="517.76" rx="2.93" ry="2.05" fill="#d9eef9"/><ellipse cx="562.79" cy="488.68" rx="1.86" ry="1.3" fill="#d9eef9"/><ellipse cx="98.88" cy="505.36" rx="2.69" ry="1.88" fill="#dbeff9"/><ellipse cx="223.82" cy="467.07" rx="1.25" ry="0.87" fill="#dbeff9"/><ellipse cx="633.17" cy="428.03" rx="2.95" ry="2.06" fill="#dbeff9"/><ellipse cx="525.39" cy="485.61" rx="2.29" ry="1.61" fill="#dbeff9"/><ellipse cx="424.24" cy="426.22" rx="2.15" ry="1.5" fill="#d6ecf8"/><ellipse cx="357.48" cy="433.22" rx="2.28" ry="1.59" fill="#d9eef9"/><ellipse cx="370.38" cy="445.52" rx="3.18" ry="2.23" fill="#d9eef9"/><ellipse cx="394.94" cy="452.86" rx="2.2" ry="1.54" fill="#f2f9fd"/><ellipse cx="145.36" cy="502.27" rx="3.45" ry="2.41" fill="#d9eef9"/><ellipse cx="243.03" cy="432.95" rx="2.8" ry="1.96" fill="#f5fbfe"/><ellipse cx="657.99" cy="484.63" rx="3.4" ry="2.38" fill="#f2f9fd"/><ellipse cx="184.59" cy="521.16" rx="1.85" ry="1.3" fill="#f5fbfe"/><ellipse cx="638.65" cy="447.08" rx="1.58" ry="1.11" fill="#d9eef9"/><ellipse cx="338.5" cy="526.08" rx="2.49" ry="1.74" fill="#d9eef9"/><ellipse cx="430.71" cy="459.98" rx="2.12" ry="1.49" fill="#d6ecf8"/><ellipse cx="607.53" cy="500.5" rx="2.17" ry="1.52" fill="#d9eef9"/><ellipse cx="259.21" cy="454.53" rx="2.18" ry="1.53" fill="#f2f9fd"/><ellipse cx="345.8" cy="462.45" rx="3.23" ry="2.26" fill="#f5fbfe"/><ellipse cx="642.43" cy="436.2" rx="2.57" ry="1.8" fill="#f2f9fd"/><ellipse cx="443.02" cy="459.24" rx="1.95" ry="1.37" fill="#f5fbfe"/><ellipse cx="591.56" cy="469.83" rx="2.47" ry="1.73" fill="#dbeff9"/><ellipse cx="123.6" cy="468.63" rx="2.98" ry="2.09" fill="#f2f9fd"/><ellipse cx="164.79" cy="457.74" rx="2.68" ry="1.87" fill="#f5fbfe"/><ellipse cx="350.16" cy="450.82" rx="2.94" ry="2.06" fill="#f2f9fd"/><ellipse cx="113.58" cy="439.22" rx="1.77" ry="1.24" fill="#dbeff9"/><ellipse cx="413.94" cy="459.26" rx="1.74" ry="1.22" fill="#f5fbfe"/><ellipse cx="183.32" cy="522.32" rx="3.49" ry="2.44" fill="#f5fbfe"/><ellipse cx="654.8" cy="433.57" rx="2.08" ry="1.46" fill="#f5fbfe"/><ellipse cx="542.57" cy="499.26" rx="2.2" ry="1.54" fill="#f5fbfe"/><ellipse cx="83.22" cy="517.79" rx="1.85" ry="1.29" fill="#d6ecf8"/><ellipse cx="320.82" cy="424.31" rx="3.16" ry="2.22" fill="#d6ecf8"/><ellipse cx="474.6" cy="475.05" rx="2.65" ry="1.86" fill="#d6ecf8"/><ellipse cx="24.82" cy="449.75" rx="2.9" ry="2.03" fill="#d9eef9"/><ellipse cx="506.43" cy="517.43" rx="2.19" ry="1.53" fill="#f2f9fd"/><ellipse cx="403.58" cy="490.31" rx="3.15" ry="2.2" fill="#f2f9fd"/><ellipse cx="581.14" cy="493.68" rx="2.68" ry="1.87" fill="#d6ecf8"/><ellipse cx="299.79" cy="450.02" rx="2.81" ry="1.97" fill="#d6ecf8"/><ellipse cx="172.41" cy="464.61" rx="2.84" ry="1.99" fill="#f5fbfe"/><ellipse cx="177.54" cy="467.05" rx="2.25" ry="1.57" fill="#f2f9fd"/><ellipse cx="585.22" cy="476.9" rx="2.72" ry="1.9" fill="#f5fbfe"/><ellipse cx="609.31" cy="457.12" rx="1.22" ry="0.86" fill="#d6ecf8"/><ellipse cx="618.49" cy="434.06" rx="1.78" ry="1.24" fill="#f5fbfe"/><ellipse cx="117.76" cy="504.31" rx="3.36" ry="2.35" fill="#f2f9fd"/><ellipse cx="243.3" cy="511.1" rx="2.25" ry="1.58" fill="#f5fbfe"/><ellipse cx="490.59" cy="476.27" rx="2.67" ry="1.87" fill="#dbeff9"/><ellipse cx="359.53" cy="465.68" rx="3.38" ry="2.37" fill="#f5fbfe"/><ellipse cx="673.49" cy="442.12" rx="2.38" ry="1.67" fill="#d9eef9"/><ellipse cx="498.5" cy="486.86" rx="2.67" ry="1.87" fill="#dbeff9"/><ellipse cx="193.82" cy="464.57" rx="1.23" ry="0.86" fill="#d6ecf8"/><ellipse cx="623.34" cy="488.37" rx="2.75" ry="1.93" fill="#f2f9fd"/><ellipse cx="187.66" cy="446.34" rx="2.91" ry="2.03" fill="#f2f9fd"/><ellipse cx="660.91" cy="526.4" rx="3.41" ry="2.39" fill="#d6ecf8"/><ellipse cx="152.05" cy="436.45" rx="2.99" ry="2.09" fill="#f5fbfe"/><ellipse cx="324.34" cy="481.45" rx="1.72" ry="1.2" fill="#f5fbfe"/><ellipse cx="246.6" cy="489.43" rx="3.08" ry="2.16" fill="#d6ecf8"/><ellipse cx="323.63" cy="453.61" rx="2.46" ry="1.72" fill="#f5fbfe"/><ellipse cx="532.5" cy="471.82" rx="3" ry="2.1" fill="#f5fbfe"/><ellipse cx="189.17" cy="462.12" rx="1.78" ry="1.25" fill="#d6ecf8"/><ellipse cx="464.81" cy="473.08" rx="3.05" ry="2.14" fill="#dbeff9"/><ellipse cx="249.84" cy="491.06" rx="1.94" ry="1.36" fill="#d6ecf8"/><ellipse cx="297.09" cy="489.28" rx="2.72" ry="1.9" fill="#dbeff9"/><ellipse cx="112.34" cy="454.53" rx="2.09" ry="1.46" fill="#d9eef9"/><ellipse cx="564.69" cy="517.2" rx="3" ry="2.1" fill="#f5fbfe"/><ellipse cx="365.53" cy="458.9" rx="2.54" ry="1.78" fill="#d9eef9"/><ellipse cx="150.53" cy="430.49" rx="1.87" ry="1.31" fill="#f2f9fd"/><ellipse cx="78.01" cy="437.84" rx="1.74" ry="1.22" fill="#d6ecf8"/><ellipse cx="242.12" cy="438.88" rx="3.28" ry="2.3" fill="#f2f9fd"/><ellipse cx="122.5" cy="515.68" rx="2.6" ry="1.82" fill="#d9eef9"/><ellipse cx="457.87" cy="515.97" rx="3.01" ry="2.11" fill="#dbeff9"/><ellipse cx="142.24" cy="495.05" rx="2.42" ry="1.69" fill="#d6ecf8"/><ellipse cx="459.72" cy="435.17" rx="1.47" ry="1.03" fill="#d6ecf8"/><ellipse cx="166.9" cy="437.49" rx="2.33" ry="1.63" fill="#d9eef9"/><ellipse cx="334.53" cy="517.17" rx="2.81" ry="1.97" fill="#f5fbfe"/><ellipse cx="343.78" cy="479.11" rx="3.18" ry="2.23" fill="#d9eef9"/><ellipse cx="117.44" cy="456.35" rx="2.8" ry="1.96" fill="#d6ecf8"/><ellipse cx="455.75" cy="510.42" rx="2.06" ry="1.44" fill="#d6ecf8"/><ellipse cx="679.97" cy="493.3" rx="1.62" ry="1.13" fill="#dbeff9"/><ellipse cx="436.2" cy="425.97" rx="2.6" ry="1.82" fill="#dbeff9"/><ellipse cx="551.76" cy="432.77" rx="2.31" ry="1.62" fill="#f5fbfe"/><ellipse cx="32.71" cy="497.69" rx="2.64" ry="1.85" fill="#dbeff9"/><ellipse cx="73.29" cy="491.54" rx="1.99" ry="1.39" fill="#f2f9fd"/><ellipse cx="381.26" cy="517.88" rx="1.85" ry="1.3" fill="#dbeff9"/><ellipse cx="293" cy="480.62" rx="3.1" ry="2.17" fill="#dbeff9"/><ellipse cx="247.97" cy="474.35" rx="1.97" ry="1.38" fill="#dbeff9"/><ellipse cx="594.89" cy="458.86" rx="1.67" ry="1.17" fill="#d6ecf8"/><ellipse cx="540.61" cy="457.41" rx="1.93" ry="1.35" fill="#dbeff9"/><ellipse cx="95.47" cy="524.17" rx="1.4" ry="0.98" fill="#d9eef9"/><ellipse cx="277.25" cy="480.65" rx="2.13" ry="1.49" fill="#f2f9fd"/><ellipse cx="43.3" cy="454.24" rx="1.21" ry="0.85" fill="#f5fbfe"/><ellipse cx="560.71" cy="472.41" rx="2.96" ry="2.07" fill="#d9eef9"/><ellipse cx="538.65" cy="517.62" rx="2.61" ry="1.82" fill="#f2f9fd"/><ellipse cx="108.52" cy="493.06" rx="2.78" ry="1.95" fill="#d9eef9"/><ellipse cx="152.38" cy="492.37" rx="2.25" ry="1.58" fill="#f5fbfe"/><ellipse cx="77.91" cy="441.86" rx="1.29" ry="0.9" fill="#d9eef9"/><ellipse cx="622.44" cy="491.19" rx="2.05" ry="1.43" fill="#f5fbfe"/><ellipse cx="536.98" cy="481.46" rx="1.79" ry="1.26" fill="#dbeff9"/><ellipse cx="133.8" cy="426.56" rx="1.25" ry="0.87" fill="#f2f9fd"/><ellipse cx="439.98" cy="520.12" rx="1.33" ry="0.93" fill="#f2f9fd"/><ellipse cx="359.84" cy="508.77" rx="2.98" ry="2.09" fill="#d6ecf8"/><ellipse cx="395.47" cy="518.54" rx="2.23" ry="1.56" fill="#d9eef9"/><ellipse cx="465.58" cy="484.76" rx="3.48" ry="2.44" fill="#f5fbfe"/><ellipse cx="328.55" cy="465.89" rx="1.43" ry="1" fill="#d6ecf8"/><ellipse cx="152.23" cy="438.78" rx="1.24" ry="0.87" fill="#d9eef9"/><ellipse cx="16.25" cy="492.61" rx="3.47" ry="2.43" fill="#d9eef9"/><ellipse cx="156.22" cy="435.62" rx="2.29" ry="1.6" fill="#dbeff9"/><ellipse cx="491.97" cy="448.2" rx="2.89" ry="2.02" fill="#f5fbfe"/><ellipse cx="628.28" cy="461.05" rx="2.92" ry="2.04" fill="#f5fbfe"/><ellipse cx="498.91" cy="431.77" rx="2.65" ry="1.85" fill="#d6ecf8"/><ellipse cx="318.59" cy="519.96" rx="1.78" ry="1.25" fill="#d9eef9"/><ellipse cx="490.53" cy="424.19" rx="1.23" ry="0.86" fill="#f2f9fd"/><ellipse cx="63.39" cy="455.35" rx="2.88" ry="2.01" fill="#f5fbfe"/><ellipse cx="651.66" cy="509.83" rx="2.6" ry="1.82" fill="#dbeff9"/><ellipse cx="256.27" cy="482.8" rx="2.21" ry="1.55" fill="#f5fbfe"/><ellipse cx="107.09" cy="505.93" rx="2.04" ry="1.42" fill="#f5fbfe"/><ellipse cx="431.9" cy="466.47" rx="2.09" ry="1.46" fill="#d6ecf8"/><ellipse cx="643.1" cy="504.6" rx="2.5" ry="1.75" fill="#dbeff9"/><ellipse cx="197.54" cy="487.67" rx="2.7" ry="1.89" fill="#f2f9fd"/><ellipse cx="232.47" cy="486.01" rx="3.45" ry="2.41" fill="#f5fbfe"/><ellipse cx="412.76" cy="455.09" rx="2.19" ry="1.53" fill="#f5fbfe"/><ellipse cx="262.37" cy="494.22" rx="2.58" ry="1.81" fill="#f5fbfe"/><ellipse cx="551.01" cy="452.46" rx="1.2" ry="0.84" fill="#dbeff9"/><ellipse cx="189.58" cy="439.36" rx="3.32" ry="2.32" fill="#d9eef9"/><ellipse cx="203.31" cy="437.63" rx="3.25" ry="2.27" fill="#f2f9fd"/><ellipse cx="108.49" cy="524.44" rx="3.03" ry="2.12" fill="#f2f9fd"/><ellipse cx="468.71" cy="518.03" rx="2" ry="1.4" fill="#d9eef9"/><ellipse cx="371.79" cy="473.42" rx="2.08" ry="1.45" fill="#f5fbfe"/><ellipse cx="217.35" cy="428.99" rx="2.11" ry="1.48" fill="#f5fbfe"/><ellipse cx="630.42" cy="483.98" rx="1.22" ry="0.86" fill="#d6ecf8"/><ellipse cx="318.01" cy="432.12" rx="3.06" ry="2.14" fill="#d9eef9"/><ellipse cx="166.02" cy="483.28" rx="3.26" ry="2.28" fill="#f2f9fd"/><ellipse cx="225.07" cy="475.64" rx="1.66" ry="1.17" fill="#f5fbfe"/><ellipse cx="138.85" cy="441.79" rx="2.81" ry="1.97" fill="#dbeff9"/><ellipse cx="397.17" cy="460.32" rx="2.99" ry="2.1" fill="#f5fbfe"/><ellipse cx="175.02" cy="518.95" rx="2.33" ry="1.63" fill="#d9eef9"/><ellipse cx="259.02" cy="471.2" rx="1.39" ry="0.97" fill="#dbeff9"/><ellipse cx="410.13" cy="458.87" rx="2.39" ry="1.68" fill="#d9eef9"/><ellipse cx="73.04" cy="444.28" rx="3.2" ry="2.24" fill="#f2f9fd"/><ellipse cx="335.83" cy="481.99" rx="1.8" ry="1.26" fill="#dbeff9"/><ellipse cx="295.39" cy="521.44" rx="2.96" ry="2.08" fill="#f2f9fd"/><ellipse cx="655.52" cy="449.42" rx="1.29" ry="0.9" fill="#f5fbfe"/><ellipse cx="676.39" cy="462.33" rx="1.26" ry="0.88" fill="#d9eef9"/><ellipse cx="383.44" cy="513.55" rx="2.25" ry="1.58" fill="#d9eef9"/><ellipse cx="588.19" cy="489.54" rx="3.32" ry="2.32" fill="#d9eef9"/><ellipse cx="182.32" cy="481.71" rx="2.67" ry="1.87" fill="#f2f9fd"/><ellipse cx="273.39" cy="469.63" rx="1.57" ry="1.1" fill="#f5fbfe"/><ellipse cx="674.45" cy="446.06" rx="1.29" ry="0.9" fill="#dbeff9"/><ellipse cx="640.58" cy="429.16" rx="2.47" ry="1.73" fill="#d9eef9"/><ellipse cx="570.94" cy="427.89" rx="3.01" ry="2.11" fill="#d6ecf8"/><ellipse cx="47.36" cy="438.06" rx="2.94" ry="2.06" fill="#f5fbfe"/><ellipse cx="463.52" cy="454.07" rx="2.56" ry="1.79" fill="#d9eef9"/><ellipse cx="325.39" cy="461.66" rx="2.1" ry="1.47" fill="#dbeff9"/><ellipse cx="332.48" cy="440.53" rx="1.75" ry="1.22" fill="#f5fbfe"/><ellipse cx="622.58" cy="515.79" rx="2.28" ry="1.59" fill="#f5fbfe"/><ellipse cx="545.23" cy="439.32" rx="3.12" ry="2.18" fill="#d9eef9"/><ellipse cx="635.76" cy="513.14" rx="3.24" ry="2.27" fill="#f5fbfe"/><ellipse cx="531.47" cy="522.63" rx="3.33" ry="2.33" fill="#d6ecf8"/><ellipse cx="574.31" cy="488.35" rx="2.24" ry="1.57" fill="#dbeff9"/><ellipse cx="226.12" cy="447.32" rx="1.47" ry="1.03" fill="#dbeff9"/><ellipse cx="105.65" cy="446.05" rx="1.33" ry="0.93" fill="#d6ecf8"/><ellipse cx="380.76" cy="438.05" rx="3.2" ry="2.24" fill="#dbeff9"/><ellipse cx="290.24" cy="448.66" rx="1.26" ry="0.88" fill="#f2f9fd"/><ellipse cx="572.51" cy="457.79" rx="1.59" ry="1.11" fill="#d6ecf8"/><ellipse cx="83.19" cy="470.44" rx="2.31" ry="1.62" fill="#f5fbfe"/><ellipse cx="665.68" cy="428.91" rx="3.26" ry="2.28" fill="#f5fbfe"/><ellipse cx="385.16" cy="509.87" rx="1.47" ry="1.03" fill="#f5fbfe"/><ellipse cx="660.37" cy="467.93" rx="1.8" ry="1.26" fill="#f5fbfe"/><ellipse cx="629.8" cy="433.15" rx="1.87" ry="1.31" fill="#f5fbfe"/><ellipse cx="48.51" cy="498.55" rx="1.88" ry="1.31" fill="#d9eef9"/><ellipse cx="306.21" cy="475.81" rx="2.37" ry="1.66" fill="#d6ecf8"/><ellipse cx="11.29" cy="509.55" rx="2.41" ry="1.69" fill="#f5fbfe"/><ellipse cx="251.27" cy="427.22" rx="2.14" ry="1.5" fill="#dbeff9"/><ellipse cx="392.8" cy="437.36" rx="1.61" ry="1.13" fill="#f5fbfe"/><ellipse cx="486.78" cy="443.46" rx="1.38" ry="0.97" fill="#d9eef9"/><ellipse cx="605.85" cy="499.01" rx="2.95" ry="2.07" fill="#f5fbfe"/><ellipse cx="148.04" cy="486.69" rx="2.83" ry="1.98" fill="#f5fbfe"/><ellipse cx="400.57" cy="444.04" rx="1.35" ry="0.95" fill="#f2f9fd"/><ellipse cx="283.44" cy="498.05" rx="1.33" ry="0.93" fill="#dbeff9"/><ellipse cx="234.6" cy="510.56" rx="3.19" ry="2.23" fill="#d6ecf8"/><ellipse cx="70.52" cy="465.59" rx="2.95" ry="2.07" fill="#f5fbfe"/><ellipse cx="594.25" cy="450.69" rx="1.63" ry="1.14" fill="#dbeff9"/><ellipse cx="34.57" cy="496.03" rx="2.52" ry="1.77" fill="#d9eef9"/><ellipse cx="248.63" cy="519.94" rx="3.43" ry="2.4" fill="#d9eef9"/><ellipse cx="90.92" cy="497.32" rx="3.08" ry="2.15" fill="#dbeff9"/><ellipse cx="532.01" cy="513.28" rx="2.53" ry="1.77" fill="#d9eef9"/><ellipse cx="205.33" cy="434.2" rx="2.88" ry="2.02" fill="#d6ecf8"/><ellipse cx="353.92" cy="478.17" rx="2.44" ry="1.71" fill="#d9eef9"/><ellipse cx="173.17" cy="432.21" rx="2.62" ry="1.84" fill="#f5fbfe"/><ellipse cx="78.79" cy="449.05" rx="3.08" ry="2.16" fill="#d9eef9"/><ellipse cx="23.03" cy="519.34" rx="2.9" ry="2.03" fill="#dbeff9"/><ellipse cx="21.85" cy="485.34" rx="2.53" ry="1.77" fill="#f2f9fd"/><ellipse cx="169.71" cy="469.2" rx="2.01" ry="1.4" fill="#d9eef9"/><ellipse cx="490.46" cy="427.7" rx="1.48" ry="1.04" fill="#d6ecf8"/><ellipse cx="402.55" cy="502.2" rx="1.45" ry="1.02" fill="#d9eef9"/><ellipse cx="281.79" cy="437.24" rx="2.56" ry="1.79" fill="#f5fbfe"/><ellipse cx="108.64" cy="482.58" rx="2.92" ry="2.04" fill="#f5fbfe"/><ellipse cx="645.29" cy="424.92" rx="2.66" ry="1.86" fill="#d6ecf8"/><ellipse cx="410.02" cy="485.69" rx="1.28" ry="0.9" fill="#d9eef9"/><ellipse cx="530.53" cy="458.21" rx="1.75" ry="1.23" fill="#dbeff9"/><ellipse cx="489.4" cy="510.67" rx="2.5" ry="1.75" fill="#dbeff9"/><ellipse cx="556.08" cy="511.15" rx="1.32" ry="0.93" fill="#f2f9fd"/><ellipse cx="108.24" cy="493.74" rx="2.01" ry="1.41" fill="#d6ecf8"/><ellipse cx="454.29" cy="424.2" rx="1.45" ry="1.02" fill="#f5fbfe"/><ellipse cx="56.41" cy="468.04" rx="2.36" ry="1.65" fill="#d9eef9"/><ellipse cx="161.07" cy="466.76" rx="2.11" ry="1.48" fill="#d6ecf8"/><ellipse cx="434.25" cy="507.16" rx="3.23" ry="2.26" fill="#d9eef9"/><ellipse cx="33.03" cy="489.72" rx="1.81" ry="1.27" fill="#f2f9fd"/><ellipse cx="193.2" cy="479.39" rx="3.33" ry="2.33" fill="#f2f9fd"/><ellipse cx="77.34" cy="435.66" rx="1.23" ry="0.86" fill="#f5fbfe"/><ellipse cx="647.08" cy="452.9" rx="1.9" ry="1.33" fill="#f5fbfe"/><ellipse cx="90.66" cy="484.81" rx="3.4" ry="2.38" fill="#f2f9fd"/><ellipse cx="613.95" cy="431.79" rx="2.56" ry="1.79" fill="#f5fbfe"/><ellipse cx="304.78" cy="476.21" rx="3.24" ry="2.27" fill="#d6ecf8"/><ellipse cx="396.82" cy="451.51" rx="2.89" ry="2.02" fill="#f2f9fd"/><ellipse cx="202.4" cy="470.23" rx="2.8" ry="1.96" fill="#f5fbfe"/><ellipse cx="445.74" cy="443.92" rx="2.83" ry="1.98" fill="#d6ecf8"/><ellipse cx="607.51" cy="454.58" rx="2.3" ry="1.61" fill="#dbeff9"/><ellipse cx="30.74" cy="457.7" rx="1.63" ry="1.14" fill="#f2f9fd"/><ellipse cx="266.73" cy="483.91" rx="1.23" ry="0.86" fill="#dbeff9"/><ellipse cx="118.74" cy="522.02" rx="1.95" ry="1.36" fill="#dbeff9"/><ellipse cx="339.24" cy="452.62" rx="3.47" ry="2.43" fill="#dbeff9"/><ellipse cx="48.13" cy="425.27" rx="2.47" ry="1.73" fill="#f2f9fd"/><ellipse cx="593.75" cy="468.76" rx="1.34" ry="0.94" fill="#d6ecf8"/><ellipse cx="569" cy="459.83" rx="2.95" ry="2.07" fill="#f2f9fd"/><ellipse cx="160.86" cy="522.77" rx="2.9" ry="2.03" fill="#f5fbfe"/><ellipse cx="289.22" cy="492.5" rx="1.52" ry="1.07" fill="#f5fbfe"/><ellipse cx="422.92" cy="511.4" rx="3.09" ry="2.16" fill="#f2f9fd"/><ellipse cx="73.68" cy="512.05" rx="3.32" ry="2.32" fill="#d6ecf8"/><ellipse cx="190.02" cy="488.59" rx="2.65" ry="1.86" fill="#f5fbfe"/><ellipse cx="286.73" cy="433.75" rx="2.14" ry="1.5" fill="#f2f9fd"/><ellipse cx="402.51" cy="474.78" rx="3.41" ry="2.39" fill="#f2f9fd"/><ellipse cx="110.25" cy="511.39" rx="1.84" ry="1.29" fill="#f2f9fd"/><ellipse cx="416.91" cy="462.47" rx="2.24" ry="1.57" fill="#d6ecf8"/><ellipse cx="203" cy="459.67" rx="2.01" ry="1.41" fill="#f2f9fd"/><ellipse cx="382.09" cy="462.99" rx="1.94" ry="1.36" fill="#d6ecf8"/><ellipse cx="265.05" cy="454.2" rx="2.43" ry="1.7" fill="#f5fbfe"/><ellipse cx="301.88" cy="462.21" rx="1.73" ry="1.21" fill="#dbeff9"/><ellipse cx="226.99" cy="510.71" rx="3.13" ry="2.19" fill="#dbeff9"/><ellipse cx="146.89" cy="467.35" rx="3.29" ry="2.31" fill="#d9eef9"/><ellipse cx="27.14" cy="449.68" rx="3.26" ry="2.28" fill="#dbeff9"/><ellipse cx="626.61" cy="503.44" rx="2.44" ry="1.71" fill="#d6ecf8"/><ellipse cx="356.69" cy="476.8" rx="2.78" ry="1.94" fill="#d6ecf8"/><ellipse cx="321.05" cy="427.23" rx="2.76" ry="1.93" fill="#d6ecf8"/><ellipse cx="645.09" cy="493.35" rx="2.41" ry="1.69" fill="#d9eef9"/><ellipse cx="284.38" cy="475.09" rx="2.69" ry="1.88" fill="#f2f9fd"/><ellipse cx="113.33" cy="442.57" rx="2.17" ry="1.52" fill="#d6ecf8"/><ellipse cx="304.91" cy="487.96" rx="3.49" ry="2.44" fill="#dbeff9"/><ellipse cx="473.36" cy="500.63" rx="1.41" ry="0.99" fill="#dbeff9"/><ellipse cx="223.11" cy="524.76" rx="3.1" ry="2.17" fill="#f2f9fd"/><ellipse cx="127.64" cy="491.22" rx="1.88" ry="1.31" fill="#dbeff9"/><ellipse cx="559.77" cy="525.99" rx="3.24" ry="2.27" fill="#d6ecf8"/><ellipse cx="432.84" cy="477.5" rx="3.08" ry="2.15" fill="#f5fbfe"/><ellipse cx="348.27" cy="442.56" rx="1.62" ry="1.13" fill="#f2f9fd"/><ellipse cx="414.1" cy="459.73" rx="3.49" ry="2.44" fill="#d9eef9"/><ellipse cx="473.47" cy="424.12" rx="1.21" ry="0.84" fill="#f2f9fd"/><ellipse cx="12.62" cy="454.66" rx="3.14" ry="2.2" fill="#f2f9fd"/><ellipse cx="20.35" cy="426.07" rx="1.6" ry="1.12" fill="#f2f9fd"/><ellipse cx="389.91" cy="513.6" rx="3.26" ry="2.28" fill="#f2f9fd"/><ellipse cx="678.06" cy="482.74" rx="2.15" ry="1.5" fill="#d9eef9"/><ellipse cx="107.39" cy="476.92" rx="2.37" ry="1.66" fill="#d9eef9"/><ellipse cx="77.07" cy="440.74" rx="2.4" ry="1.68" fill="#d6ecf8"/><ellipse cx="420.71" cy="506.89" rx="1.34" ry="0.94" fill="#d9eef9"/><ellipse cx="468.66" cy="483.2" rx="1.53" ry="1.07" fill="#f5fbfe"/><ellipse cx="247.08" cy="440.62" rx="1.81" ry="1.27" fill="#d9eef9"/><ellipse cx="585.75" cy="521.56" rx="1.34" ry="0.94" fill="#f5fbfe"/><ellipse cx="311.39" cy="463.11" rx="1.33" ry="0.93" fill="#d6ecf8"/><ellipse cx="400.38" cy="522.8" rx="2.21" ry="1.55" fill="#f2f9fd"/><ellipse cx="169.66" cy="446.18" rx="1.57" ry="1.1" fill="#f2f9fd"/><ellipse cx="582.66" cy="455.74" rx="3.27" ry="2.29" fill="#d6ecf8"/><ellipse cx="213.46" cy="485.67" rx="3.41" ry="2.39" fill="#d6ecf8"/><ellipse cx="666.29" cy="430.02" rx="2.76" ry="1.93" fill="#f2f9fd"/><ellipse cx="158.34" cy="455.15" rx="3.21" ry="2.25" fill="#d6ecf8"/><ellipse cx="25.03" cy="513.29" rx="1.4" ry="0.98" fill="#f5fbfe"/><ellipse cx="250.13" cy="442.4" rx="3.43" ry="2.4" fill="#dbeff9"/><ellipse cx="275.34" cy="460.75" rx="1.97" ry="1.38" fill="#d6ecf8"/><ellipse cx="235.04" cy="490.73" rx="3.41" ry="2.39" fill="#d6ecf8"/><ellipse cx="563.3" cy="459.53" rx="1.76" ry="1.23" fill="#f5fbfe"/><ellipse cx="322.9" cy="458.83" rx="2.2" ry="1.54" fill="#dbeff9"/><ellipse cx="455.06" cy="458.51" rx="1.56" ry="1.09" fill="#f5fbfe"/><ellipse cx="72.06" cy="451.05" rx="3.12" ry="2.18" fill="#f5fbfe"/><ellipse cx="381.83" cy="471.57" rx="3.03" ry="2.12" fill="#f5fbfe"/><ellipse cx="116.68" cy="459.7" rx="2.86" ry="2" fill="#d6ecf8"/><ellipse cx="431.66" cy="483.4" rx="1.88" ry="1.32" fill="#d6ecf8"/><ellipse cx="348.24" cy="446.64" rx="2.24" ry="1.57" fill="#f5fbfe"/><ellipse cx="641.2" cy="526.78" rx="2.57" ry="1.8" fill="#d6ecf8"/><ellipse cx="403.67" cy="461.27" rx="1.77" ry="1.24" fill="#f2f9fd"/><ellipse cx="351.83" cy="436.05" rx="2.93" ry="2.05" fill="#f2f9fd"/><ellipse cx="71.28" cy="511.59" rx="2.89" ry="2.02" fill="#d6ecf8"/><ellipse cx="29.24" cy="497.7" rx="1.53" ry="1.07" fill="#d9eef9"/><ellipse cx="271.26" cy="431.95" rx="1.61" ry="1.13" fill="#f5fbfe"/><ellipse cx="225.09" cy="491.93" rx="1.45" ry="1.02" fill="#f2f9fd"/><ellipse cx="622.28" cy="506.74" rx="2.94" ry="2.06" fill="#f5fbfe"/><ellipse cx="54.16" cy="455.37" rx="1.72" ry="1.2" fill="#f5fbfe"/><ellipse cx="557.28" cy="464.49" rx="2.02" ry="1.41" fill="#d6ecf8"/><ellipse cx="529.25" cy="514.81" rx="3.18" ry="2.23" fill="#f5fbfe"/><ellipse cx="637.62" cy="441.34" rx="2.04" ry="1.43" fill="#dbeff9"/><ellipse cx="610.95" cy="425.63" rx="2.82" ry="1.97" fill="#d6ecf8"/><ellipse cx="176.44" cy="511.06" rx="2.01" ry="1.41" fill="#d9eef9"/><ellipse cx="131.71" cy="434.98" rx="3.3" ry="2.31" fill="#f5fbfe"/><ellipse cx="487.43" cy="427.21" rx="1.29" ry="0.9" fill="#f5fbfe"/><ellipse cx="298.57" cy="501.72" rx="1.56" ry="1.09" fill="#d9eef9"/><ellipse cx="380.07" cy="488.46" rx="3.37" ry="2.36" fill="#f2f9fd"/><ellipse cx="572.44" cy="482.3" rx="2.85" ry="1.99" fill="#dbeff9"/><ellipse cx="630.21" cy="492.69" rx="2.52" ry="1.77" fill="#d9eef9"/><ellipse cx="84.95" cy="502.43" rx="2.71" ry="1.9" fill="#d9eef9"/><ellipse cx="596.33" cy="483.85" rx="2.8" ry="1.96" fill="#f5fbfe"/><ellipse cx="466.32" cy="426.86" rx="1.93" ry="1.35" fill="#dbeff9"/><ellipse cx="512.18" cy="431.96" rx="2.8" ry="1.96" fill="#d6ecf8"/><ellipse cx="678.73" cy="486.99" rx="1.71" ry="1.2" fill="#f2f9fd"/><ellipse cx="70.26" cy="521.42" rx="2.18" ry="1.52" fill="#dbeff9"/><ellipse cx="473.39" cy="499.82" rx="3.11" ry="2.18" fill="#d6ecf8"/><ellipse cx="350.8" cy="493.37" rx="1.67" ry="1.17" fill="#f2f9fd"/><ellipse cx="577.2" cy="503.94" rx="2.33" ry="1.63" fill="#f5fbfe"/><ellipse cx="39.27" cy="496.08" rx="3.05" ry="2.14" fill="#dbeff9"/><ellipse cx="126.94" cy="440.02" rx="3" ry="2.1" fill="#f5fbfe"/><ellipse cx="374.43" cy="448.97" rx="1.34" ry="0.94" fill="#dbeff9"/><ellipse cx="242.64" cy="432.62" rx="2.66" ry="1.86" fill="#f5fbfe"/><ellipse cx="101.49" cy="496.53" rx="2.74" ry="1.92" fill="#f5fbfe"/><ellipse cx="482.77" cy="423.61" rx="2.79" ry="1.95" fill="#f5fbfe"/><ellipse cx="637.02" cy="459.55" rx="1.89" ry="1.32" fill="#f5fbfe"/><ellipse cx="403.66" cy="448.04" rx="2.65" ry="1.85" fill="#d9eef9"/><ellipse cx="377.33" cy="502.09" rx="1.59" ry="1.11" fill="#f5fbfe"/><ellipse cx="411.12" cy="470.96" rx="2.96" ry="2.07" fill="#f5fbfe"/><ellipse cx="86.7" cy="453.09" rx="2.03" ry="1.42" fill="#f5fbfe"/><ellipse cx="39.08" cy="516.16" rx="1.9" ry="1.33" fill="#d9eef9"/><ellipse cx="480.09" cy="469.59" rx="1.46" ry="1.02" fill="#dbeff9"/><ellipse cx="308.2" cy="482.2" rx="1.87" ry="1.31" fill="#f2f9fd"/><ellipse cx="58.12" cy="424.12" rx="3.48" ry="2.44" fill="#d6ecf8"/><ellipse cx="66.26" cy="497.58" rx="3.45" ry="2.42" fill="#f2f9fd"/><ellipse cx="187.17" cy="490.09" rx="3.4" ry="2.38" fill="#d6ecf8"/><ellipse cx="137.17" cy="479.48" rx="1.22" ry="0.85" fill="#d9eef9"/><ellipse cx="441.82" cy="488.29" rx="3.35" ry="2.35" fill="#dbeff9"/><ellipse cx="447.56" cy="431.13" rx="2.92" ry="2.04" fill="#d9eef9"/><ellipse cx="528.87" cy="510.32" rx="1.88" ry="1.32" fill="#f5fbfe"/><ellipse cx="654.56" cy="477.65" rx="3.26" ry="2.28" fill="#f5fbfe"/><ellipse cx="78.46" cy="497.76" rx="1.91" ry="1.34" fill="#f2f9fd"/><ellipse cx="228.87" cy="442.19" rx="3.1" ry="2.17" fill="#dbeff9"/><ellipse cx="164.25" cy="437.18" rx="3.32" ry="2.32" fill="#dbeff9"/><ellipse cx="170.38" cy="427.29" rx="2.5" ry="1.75" fill="#d6ecf8"/><ellipse cx="616.48" cy="521.27" rx="2.34" ry="1.64" fill="#d6ecf8"/><ellipse cx="499.61" cy="526.55" rx="2.59" ry="1.81" fill="#d9eef9"/><ellipse cx="105.06" cy="446.66" rx="1.52" ry="1.06" fill="#d6ecf8"/><ellipse cx="70.07" cy="427.15" rx="2.21" ry="1.55" fill="#f5fbfe"/><ellipse cx="156.24" cy="461.74" rx="1.27" ry="0.89" fill="#f2f9fd"/><ellipse cx="583.07" cy="504.84" rx="2.18" ry="1.52" fill="#dbeff9"/><ellipse cx="58.24" cy="428.75" rx="2.83" ry="1.98" fill="#dbeff9"/><ellipse cx="52.02" cy="423.91" rx="3.4" ry="2.38" fill="#f5fbfe"/><ellipse cx="615.68" cy="440.1" rx="1.88" ry="1.32" fill="#d6ecf8"/><ellipse cx="548.79" cy="493.23" rx="2.51" ry="1.75" fill="#d6ecf8"/><ellipse cx="66.98" cy="456.66" rx="2.26" ry="1.58" fill="#f2f9fd"/><ellipse cx="618.83" cy="513" rx="3.44" ry="2.41" fill="#f2f9fd"/><ellipse cx="425.31" cy="507.36" rx="1.34" ry="0.94" fill="#dbeff9"/><ellipse cx="418.13" cy="453.89" rx="2.51" ry="1.76" fill="#dbeff9"/><ellipse cx="332.09" cy="490.33" rx="1.89" ry="1.32" fill="#dbeff9"/><ellipse cx="365.37" cy="488.91" rx="3.15" ry="2.21" fill="#f5fbfe"/><ellipse cx="464.72" cy="469.52" rx="1.4" ry="0.98" fill="#f2f9fd"/><ellipse cx="259.25" cy="483.4" rx="2.16" ry="1.51" fill="#f2f9fd"/><ellipse cx="170.96" cy="468.9" rx="1.8" ry="1.26" fill="#f5fbfe"/><ellipse cx="130.94" cy="515.56" rx="2.46" ry="1.72" fill="#d9eef9"/><ellipse cx="158.24" cy="510.08" rx="2.69" ry="1.89" fill="#f5fbfe"/><ellipse cx="365.62" cy="449.16" rx="2.33" ry="1.63" fill="#f2f9fd"/><ellipse cx="316.96" cy="479.29" rx="2.8" ry="1.96" fill="#f2f9fd"/><ellipse cx="619.2" cy="481.95" rx="3.16" ry="2.21" fill="#d9eef9"/><ellipse cx="546.22" cy="436.97" rx="2.36" ry="1.65" fill="#f2f9fd"/><ellipse cx="488.79" cy="501.72" rx="1.46" ry="1.02" fill="#f2f9fd"/><ellipse cx="78.4" cy="509.34" rx="2.1" ry="1.47" fill="#f5fbfe"/><ellipse cx="658.53" cy="442.93" rx="2.29" ry="1.6" fill="#d9eef9"/><ellipse cx="101.66" cy="503.72" rx="1.33" ry="0.93" fill="#f5fbfe"/><ellipse cx="41.64" cy="427.34" rx="2.81" ry="1.97" fill="#f5fbfe"/><ellipse cx="318" cy="435.54" rx="1.51" ry="1.06" fill="#d9eef9"/><ellipse cx="426.18" cy="513.7" rx="2.49" ry="1.75" fill="#dbeff9"/><ellipse cx="122.56" cy="500.53" rx="1.99" ry="1.39" fill="#d9eef9"/><ellipse cx="563.17" cy="435.76" rx="2.06" ry="1.44" fill="#f2f9fd"/><ellipse cx="645.18" cy="498.07" rx="1.3" ry="0.91" fill="#f2f9fd"/><ellipse cx="246.81" cy="460" rx="1.95" ry="1.37" fill="#f2f9fd"/><ellipse cx="85.69" cy="519.24" rx="2.75" ry="1.93" fill="#dbeff9"/><ellipse cx="247.42" cy="495.17" rx="1.25" ry="0.87" fill="#f2f9fd"/><ellipse cx="304.72" cy="505.28" rx="2.32" ry="1.63" fill="#d9eef9"/><ellipse cx="546.46" cy="442.27" rx="2.47" ry="1.73" fill="#dbeff9"/><ellipse cx="595.41" cy="492.63" rx="3.12" ry="2.19" fill="#f2f9fd"/><ellipse cx="596.52" cy="479" rx="2.79" ry="1.95" fill="#dbeff9"/><ellipse cx="645.67" cy="424.44" rx="1.99" ry="1.39" fill="#f5fbfe"/><ellipse cx="336.4" cy="473.33" rx="1.27" ry="0.89" fill="#d9eef9"/><ellipse cx="59.98" cy="487.52" rx="2.68" ry="1.88" fill="#f2f9fd"/><ellipse cx="273.02" cy="472.48" rx="1.56" ry="1.09" fill="#d6ecf8"/><ellipse cx="273.59" cy="513.79" rx="2.6" ry="1.82" fill="#d9eef9"/><ellipse cx="251.82" cy="477.94" rx="1.92" ry="1.34" fill="#f5fbfe"/><ellipse cx="404.78" cy="427.54" rx="1.59" ry="1.11" fill="#dbeff9"/><ellipse cx="497.25" cy="457.46" rx="2.28" ry="1.59" fill="#dbeff9"/><ellipse cx="220.62" cy="457.89" rx="2.31" ry="1.62" fill="#f5fbfe"/><ellipse cx="23.74" cy="470.78" rx="3.47" ry="2.43" fill="#d9eef9"/><ellipse cx="432.69" cy="498.6" rx="1.53" ry="1.07" fill="#d6ecf8"/><ellipse cx="193.14" cy="475" rx="1.8" ry="1.26" fill="#f2f9fd"/><ellipse cx="394.26" cy="483.78" rx="1.52" ry="1.06" fill="#d9eef9"/><ellipse cx="623.09" cy="516.87" rx="1.42" ry="0.99" fill="#f5fbfe"/><ellipse cx="528.78" cy="488.84" rx="2.66" ry="1.86" fill="#dbeff9"/><ellipse cx="540.57" cy="505.48" rx="1.75" ry="1.22" fill="#f5fbfe"/><ellipse cx="466.49" cy="454.62" rx="2.96" ry="2.07" fill="#dbeff9"/><ellipse cx="350.97" cy="489.06" rx="2.01" ry="1.4" fill="#f2f9fd"/><ellipse cx="489.51" cy="457.78" rx="2.82" ry="1.97" fill="#dbeff9"/><ellipse cx="602.05" cy="504.39" rx="2.36" ry="1.65" fill="#f5fbfe"/><ellipse cx="552.18" cy="526.65" rx="1.55" ry="1.08" fill="#f5fbfe"/><ellipse cx="14.85" cy="513.58" rx="2.24" ry="1.57" fill="#d6ecf8"/><ellipse cx="275.37" cy="503.32" rx="3.34" ry="2.34" fill="#f2f9fd"/><ellipse cx="54.44" cy="454.35" rx="1.91" ry="1.34" fill="#f2f9fd"/><ellipse cx="379.35" cy="520.49" rx="1.98" ry="1.39" fill="#f5fbfe"/><ellipse cx="400.84" cy="431.32" rx="1.61" ry="1.13" fill="#f2f9fd"/><ellipse cx="246.84" cy="471.66" rx="3.43" ry="2.4" fill="#d6ecf8"/><ellipse cx="493.21" cy="518.88" rx="3.13" ry="2.19" fill="#dbeff9"/><ellipse cx="612.4" cy="451.69" rx="1.79" ry="1.25" fill="#d9eef9"/><ellipse cx="518.19" cy="488.15" rx="1.74" ry="1.22" fill="#d9eef9"/><ellipse cx="156.27" cy="464.56" rx="1.66" ry="1.16" fill="#f2f9fd"/><ellipse cx="199.37" cy="475.2" rx="1.43" ry="1" fill="#f5fbfe"/><ellipse cx="501.71" cy="523.17" rx="2.58" ry="1.81" fill="#d9eef9"/><ellipse cx="59.21" cy="507.9" rx="2.52" ry="1.77" fill="#f5fbfe"/><ellipse cx="13.38" cy="451.15" rx="2.68" ry="1.87" fill="#d9eef9"/><ellipse cx="438.73" cy="518.98" rx="1.69" ry="1.18" fill="#dbeff9"/><ellipse cx="591.38" cy="425.82" rx="2.32" ry="1.62" fill="#f2f9fd"/><ellipse cx="464.91" cy="458.13" rx="1.33" ry="0.93" fill="#d6ecf8"/><ellipse cx="543.5" cy="432.07" rx="2.61" ry="1.83" fill="#d6ecf8"/><ellipse cx="671.84" cy="464.55" rx="3.36" ry="2.35" fill="#d9eef9"/><ellipse cx="27.25" cy="455.96" rx="2.7" ry="1.89" fill="#dbeff9"/><ellipse cx="47.53" cy="486.85" rx="2.87" ry="2.01" fill="#dbeff9"/><ellipse cx="114.97" cy="424.93" rx="1.68" ry="1.18" fill="#f2f9fd"/><ellipse cx="524.02" cy="432.35" rx="3.07" ry="2.15" fill="#d6ecf8"/><ellipse cx="240.55" cy="493.74" rx="3.19" ry="2.23" fill="#f5fbfe"/><ellipse cx="450.43" cy="485.56" rx="1.96" ry="1.37" fill="#f2f9fd"/><ellipse cx="182.75" cy="496.99" rx="2.96" ry="2.07" fill="#dbeff9"/><ellipse cx="446.6" cy="480.15" rx="2.82" ry="1.98" fill="#f2f9fd"/><ellipse cx="196.44" cy="477.43" rx="3.36" ry="2.35" fill="#f5fbfe"/><ellipse cx="179.45" cy="481.05" rx="1.43" ry="1" fill="#dbeff9"/><ellipse cx="110.9" cy="488.41" rx="2.12" ry="1.49" fill="#d9eef9"/><ellipse cx="637.76" cy="487.96" rx="1.48" ry="1.04" fill="#f2f9fd"/><ellipse cx="346.24" cy="480.75" rx="1.62" ry="1.13" fill="#f2f9fd"/><ellipse cx="254.96" cy="438.53" rx="1.61" ry="1.13" fill="#f5fbfe"/><ellipse cx="364.09" cy="459.49" rx="2.83" ry="1.98" fill="#d6ecf8"/><ellipse cx="668.16" cy="474.89" rx="2.66" ry="1.86" fill="#dbeff9"/><ellipse cx="613.69" cy="463.46" rx="1.69" ry="1.18" fill="#d9eef9"/><ellipse cx="82.23" cy="499.27" rx="1.35" ry="0.95" fill="#d6ecf8"/><ellipse cx="461.72" cy="459.47" rx="1.72" ry="1.21" fill="#d6ecf8"/><ellipse cx="284.65" cy="518.59" rx="3.37" ry="2.36" fill="#f5fbfe"/><ellipse cx="30.57" cy="425.16" rx="2.83" ry="1.98" fill="#f5fbfe"/><ellipse cx="165.03" cy="444.13" rx="2.95" ry="2.06" fill="#dbeff9"/><ellipse cx="209.97" cy="526.41" rx="1.7" ry="1.19" fill="#f2f9fd"/><ellipse cx="539.86" cy="472.65" rx="3.35" ry="2.34" fill="#dbeff9"/><ellipse cx="649.36" cy="437.2" rx="1.89" ry="1.32" fill="#d9eef9"/><ellipse cx="232.12" cy="473.5" rx="3.25" ry="2.27" fill="#f5fbfe"/><ellipse cx="224.24" cy="486.47" rx="3.4" ry="2.38" fill="#f5fbfe"/><ellipse cx="398.08" cy="514.82" rx="1.68" ry="1.18" fill="#dbeff9"/><ellipse cx="40.95" cy="503.49" rx="2.21" ry="1.55" fill="#d6ecf8"/><ellipse cx="588.86" cy="526.46" rx="1.88" ry="1.32" fill="#d9eef9"/><ellipse cx="549.36" cy="438.8" rx="3.3" ry="2.31" fill="#f5fbfe"/><ellipse cx="620.78" cy="438.68" rx="2.89" ry="2.02" fill="#d9eef9"/><ellipse cx="513.37" cy="471.31" rx="2.11" ry="1.48" fill="#d6ecf8"/><ellipse cx="237.49" cy="518.52" rx="2.85" ry="1.99" fill="#dbeff9"/><ellipse cx="666.37" cy="426.42" rx="1.74" ry="1.22" fill="#d9eef9"/><ellipse cx="35.38" cy="475.5" rx="1.73" ry="1.21" fill="#d6ecf8"/><ellipse cx="477.94" cy="498.76" rx="1.31" ry="0.92" fill="#dbeff9"/><ellipse cx="53.25" cy="434.48" rx="3.4" ry="2.38" fill="#f5fbfe"/><ellipse cx="362.03" cy="423.27" rx="1.71" ry="1.2" fill="#f2f9fd"/><ellipse cx="109.12" cy="499.77" rx="2.35" ry="1.65" fill="#d9eef9"/><ellipse cx="365.05" cy="510.32" rx="3.4" ry="2.38" fill="#d9eef9"/><ellipse cx="244.13" cy="445.37" rx="3.43" ry="2.4" fill="#f5fbfe"/><ellipse cx="500.04" cy="451.39" rx="1.61" ry="1.13" fill="#dbeff9"/><ellipse cx="190.23" cy="523.5" rx="1.65" ry="1.16" fill="#d9eef9"/><ellipse cx="283.44" cy="480.89" rx="2.03" ry="1.42" fill="#d9eef9"/><ellipse cx="228.23" cy="427.31" rx="2.24" ry="1.57" fill="#dbeff9"/><ellipse cx="377.7" cy="494.79" rx="3.46" ry="2.42" fill="#dbeff9"/><ellipse cx="277.52" cy="456.1" rx="2.16" ry="1.51" fill="#f5fbfe"/><ellipse cx="269.34" cy="463.08" rx="2.14" ry="1.5" fill="#f5fbfe"/><ellipse cx="611.73" cy="489.04" rx="1.75" ry="1.22" fill="#f2f9fd"/><ellipse cx="630.61" cy="449.49" rx="2.61" ry="1.82" fill="#d6ecf8"/><ellipse cx="673.98" cy="508.86" rx="2.73" ry="1.91" fill="#d9eef9"/><ellipse cx="574.85" cy="504.53" rx="3.29" ry="2.3" fill="#d9eef9"/><ellipse cx="281.9" cy="481.09" rx="2.78" ry="1.94" fill="#d6ecf8"/><ellipse cx="377.8" cy="455.82" rx="3.43" ry="2.4" fill="#d9eef9"/><ellipse cx="327.23" cy="490.32" rx="2.28" ry="1.6" fill="#dbeff9"/><ellipse cx="406.84" cy="526.45" rx="1.74" ry="1.22" fill="#d6ecf8"/><ellipse cx="247.99" cy="429.67" rx="3.44" ry="2.41" fill="#dbeff9"/><ellipse cx="420.59" cy="493.43" rx="1.94" ry="1.36" fill="#f2f9fd"/><ellipse cx="455.04" cy="519.09" rx="2.96" ry="2.07" fill="#dbeff9"/><ellipse cx="618.86" cy="472.22" rx="2.86" ry="2" fill="#f2f9fd"/><ellipse cx="404.96" cy="482.35" rx="3.5" ry="2.45" fill="#d9eef9"/><ellipse cx="631.31" cy="477.99" rx="2.41" ry="1.68" fill="#f2f9fd"/><ellipse cx="123.32" cy="461.04" rx="2.75" ry="1.92" fill="#f5fbfe"/><ellipse cx="560.66" cy="470.87" rx="2.67" ry="1.87" fill="#d9eef9"/><ellipse cx="225.72" cy="460.62" rx="3.19" ry="2.23" fill="#d6ecf8"/><ellipse cx="92.43" cy="439" rx="1.78" ry="1.24" fill="#d9eef9"/><ellipse cx="254.4" cy="491.95" rx="2.4" ry="1.68" fill="#dbeff9"/><ellipse cx="313.38" cy="432.15" rx="2.11" ry="1.48" fill="#d6ecf8"/><ellipse cx="475.66" cy="469.73" rx="2.3" ry="1.61" fill="#f5fbfe"/><ellipse cx="518.4" cy="438.59" rx="2.76" ry="1.94" fill="#dbeff9"/><ellipse cx="337.48" cy="491.67" rx="2.63" ry="1.84" fill="#f2f9fd"/><ellipse cx="237.86" cy="462.64" rx="1.24" ry="0.87" fill="#f5fbfe"/><ellipse cx="10.54" cy="450.01" rx="2.56" ry="1.79" fill="#dbeff9"/><ellipse cx="491.18" cy="451.56" rx="1.95" ry="1.36" fill="#f5fbfe"/><ellipse cx="187.82" cy="468.56" rx="2.41" ry="1.69" fill="#d6ecf8"/><ellipse cx="585.46" cy="443.98" rx="2.17" ry="1.52" fill="#dbeff9"/><ellipse cx="423.97" cy="461.65" rx="1.3" ry="0.91" fill="#d6ecf8"/><ellipse cx="261.74" cy="427.34" rx="2.93" ry="2.05" fill="#d6ecf8"/><ellipse cx="298.75" cy="486.17" rx="1.79" ry="1.25" fill="#f5fbfe"/><ellipse cx="268.19" cy="483.18" rx="3.33" ry="2.33" fill="#f5fbfe"/><ellipse cx="665.05" cy="511.58" rx="2.53" ry="1.77" fill="#d9eef9"/><ellipse cx="455.95" cy="457.26" rx="1.36" ry="0.95" fill="#d6ecf8"/><ellipse cx="264.2" cy="477.68" rx="2.34" ry="1.64" fill="#d9eef9"/><ellipse cx="82.23" cy="481.6" rx="3.35" ry="2.35" fill="#d6ecf8"/><ellipse cx="287.98" cy="472.25" rx="3.25" ry="2.27" fill="#d6ecf8"/><ellipse cx="276.4" cy="437.07" rx="2.93" ry="2.05" fill="#d9eef9"/><ellipse cx="459.15" cy="500.01" rx="2.12" ry="1.49" fill="#d9eef9"/><ellipse cx="630.27" cy="453.57" rx="1.96" ry="1.37" fill="#d6ecf8"/><ellipse cx="525.82" cy="435.28" rx="1.71" ry="1.2" fill="#d9eef9"/><ellipse cx="392.59" cy="424.61" rx="2.34" ry="1.64" fill="#f5fbfe"/><ellipse cx="388.16" cy="428.72" rx="2.77" ry="1.94" fill="#dbeff9"/><ellipse cx="333.47" cy="428.7" rx="2.79" ry="1.95" fill="#d6ecf8"/><ellipse cx="575.22" cy="437.58" rx="2.14" ry="1.5" fill="#d9eef9"/><ellipse cx="594.19" cy="438.13" rx="1.97" ry="1.38" fill="#f2f9fd"/><ellipse cx="668.09" cy="442.36" rx="2.44" ry="1.71" fill="#f2f9fd"/><ellipse cx="185.77" cy="455.56" rx="1.79" ry="1.25" fill="#dbeff9"/><ellipse cx="382.31" cy="476.14" rx="2.17" ry="1.52" fill="#d9eef9"/><ellipse cx="215.59" cy="448.85" rx="2.07" ry="1.45" fill="#d6ecf8"/><ellipse cx="583.95" cy="449.74" rx="1.66" ry="1.17" fill="#d9eef9"/><ellipse cx="149.03" cy="490.83" rx="3.34" ry="2.34" fill="#d6ecf8"/><ellipse cx="485.62" cy="437.69" rx="3.34" ry="2.34" fill="#dbeff9"/><ellipse cx="144.18" cy="518.62" rx="2.48" ry="1.74" fill="#d9eef9"/><ellipse cx="498.6" cy="423.89" rx="1.36" ry="0.95" fill="#f2f9fd"/><ellipse cx="561.67" cy="426.67" rx="1.71" ry="1.19" fill="#d6ecf8"/><ellipse cx="205.33" cy="496.9" rx="3.05" ry="2.13" fill="#f2f9fd"/><ellipse cx="419.19" cy="465.22" rx="2.87" ry="2.01" fill="#f5fbfe"/><ellipse cx="598.3" cy="429" rx="2.2" ry="1.54" fill="#d9eef9"/><ellipse cx="42.81" cy="512.71" rx="1.37" ry="0.96" fill="#f2f9fd"/><ellipse cx="343.09" cy="424.48" rx="2.86" ry="2" fill="#f5fbfe"/><ellipse cx="343.81" cy="493.08" rx="2.75" ry="1.93" fill="#dbeff9"/><ellipse cx="547.29" cy="478.58" rx="1.57" ry="1.1" fill="#f5fbfe"/><ellipse cx="355.88" cy="471.43" rx="1.66" ry="1.16" fill="#d9eef9"/><ellipse cx="647.08" cy="466.13" rx="2.72" ry="1.9" fill="#dbeff9"/><ellipse cx="483.16" cy="469.01" rx="2.18" ry="1.52" fill="#d9eef9"/><ellipse cx="628.98" cy="436.87" rx="1.57" ry="1.1" fill="#d6ecf8"/><ellipse cx="206.74" cy="447.2" rx="2.54" ry="1.78" fill="#dbeff9"/><ellipse cx="483.65" cy="497.81" rx="1.91" ry="1.34" fill="#dbeff9"/><ellipse cx="227.34" cy="510.5" rx="1.55" ry="1.08" fill="#f5fbfe"/><ellipse cx="272.31" cy="426.43" rx="2.07" ry="1.45" fill="#dbeff9"/><ellipse cx="159.65" cy="479.75" rx="1.42" ry="0.99" fill="#d6ecf8"/><ellipse cx="109.78" cy="442.13" rx="1.97" ry="1.38" fill="#d6ecf8"/><ellipse cx="86.63" cy="509.16" rx="1.48" ry="1.04" fill="#f5fbfe"/><ellipse cx="677.41" cy="520.7" rx="2.41" ry="1.69" fill="#dbeff9"/><ellipse cx="338.24" cy="424.85" rx="3" ry="2.1" fill="#d9eef9"/><ellipse cx="144.34" cy="452.12" rx="1.9" ry="1.33" fill="#f2f9fd"/><ellipse cx="372.28" cy="432.2" rx="1.52" ry="1.06" fill="#dbeff9"/><ellipse cx="524.41" cy="502.57" rx="3.28" ry="2.3" fill="#f2f9fd"/><ellipse cx="629.49" cy="426.37" rx="2.58" ry="1.8" fill="#d9eef9"/><ellipse cx="240.68" cy="521.22" rx="2.71" ry="1.9" fill="#d9eef9"/><ellipse cx="125.23" cy="459.42" rx="2.31" ry="1.61" fill="#dbeff9"/><ellipse cx="507.38" cy="441.6" rx="3.01" ry="2.11" fill="#dbeff9"/><ellipse cx="552.04" cy="498.26" rx="2.25" ry="1.57" fill="#f2f9fd"/><ellipse cx="85.68" cy="439.78" rx="2.1" ry="1.47" fill="#d9eef9"/><ellipse cx="32.6" cy="476.39" rx="1.42" ry="1" fill="#f5fbfe"/><ellipse cx="288.27" cy="510.07" rx="1.38" ry="0.96" fill="#f5fbfe"/><ellipse cx="250.82" cy="491.93" rx="1.41" ry="0.98" fill="#d9eef9"/><ellipse cx="574.34" cy="513.84" rx="2.3" ry="1.61" fill="#f5fbfe"/><ellipse cx="185.06" cy="434.08" rx="1.75" ry="1.22" fill="#f5fbfe"/><ellipse cx="342.41" cy="478.74" rx="1.47" ry="1.03" fill="#d6ecf8"/><ellipse cx="174.8" cy="482.11" rx="1.3" ry="0.91" fill="#dbeff9"/><ellipse cx="255.82" cy="443.56" rx="2.13" ry="1.49" fill="#f5fbfe"/><ellipse cx="671.99" cy="517.47" rx="2.87" ry="2.01" fill="#f2f9fd"/><ellipse cx="346.2" cy="515.62" rx="1.23" ry="0.86" fill="#d9eef9"/><ellipse cx="337.23" cy="505.27" rx="2.51" ry="1.76" fill="#f5fbfe"/><ellipse cx="68.32" cy="440.81" rx="3.13" ry="2.19" fill="#d9eef9"/><ellipse cx="294.08" cy="487.92" rx="1.45" ry="1.02" fill="#f2f9fd"/><ellipse cx="606.64" cy="431.77" rx="2.53" ry="1.77" fill="#f5fbfe"/><ellipse cx="173.18" cy="503.59" rx="2.38" ry="1.67" fill="#d9eef9"/><ellipse cx="560.32" cy="430.6" rx="1.98" ry="1.38" fill="#d9eef9"/><ellipse cx="37.62" cy="487.3" rx="2.79" ry="1.95" fill="#dbeff9"/><ellipse cx="239.19" cy="507.3" rx="2.26" ry="1.58" fill="#f5fbfe"/><ellipse cx="17.21" cy="520.79" rx="2.15" ry="1.5" fill="#d6ecf8"/><ellipse cx="31.6" cy="505.02" rx="1.54" ry="1.08" fill="#f2f9fd"/><ellipse cx="464.8" cy="438.73" rx="1.99" ry="1.39" fill="#f5fbfe"/><ellipse cx="146.5" cy="519.19" rx="2.78" ry="1.94" fill="#d9eef9"/><ellipse cx="678.19" cy="505.33" rx="2.3" ry="1.61" fill="#d6ecf8"/><ellipse cx="362.12" cy="457.32" rx="1.36" ry="0.95" fill="#f2f9fd"/><ellipse cx="436.38" cy="443.7" rx="2.64" ry="1.85" fill="#dbeff9"/></g>
<line x1="297.8" y1="421" x2="297.8" y2="513" stroke="#a4a4a4" stroke-width="1.4" stroke-dasharray="4,2.4"/>
<rect x="340.6" y="515.1" width="342.4" height="12" fill="#fcab7d"/>
<rect x="8" y="527" width="677" height="35" fill="url(#slabV)"/>
<rect x="8" y="527" width="677" height="35" fill="url(#slabR)" mask="url(#slabM)"/>
<ellipse cx="183" cy="527.2" rx="3.4" ry="4.1" fill="#fff"/>
<ellipse cx="196" cy="528.2" rx="8.4" ry="5.5" fill="#fff"/>
<ellipse cx="209.6" cy="527.6" rx="5.8" ry="4.7" fill="#fff"/>
<ellipse cx="223.2" cy="528.8" rx="6.4" ry="7" fill="#fff"/>
<ellipse cx="236.8" cy="527.6" rx="5.1" ry="5.2" fill="#fff"/>
<rect x="98" y="520.2" width="65.5" height="7.2" rx="1.2" fill="#5577c0"/>
<g><rect x="132.01" y="525.64" width="2.14" height="0.6" fill="#3d5fa8"/><rect x="109.78" y="525.03" width="1.56" height="0.6" fill="#3d5fa8"/><rect x="105.65" y="520.96" width="1.34" height="0.6" fill="#c4d4f0"/><rect x="114.75" y="523.81" width="1.24" height="0.6" fill="#c4d4f0"/><rect x="107.4" y="524.11" width="1" height="0.6" fill="#8aa6dc"/><rect x="108.26" y="525.03" width="1.58" height="0.6" fill="#8aa6dc"/><rect x="119.79" y="521.54" width="1.8" height="0.6" fill="#a9bfe8"/><rect x="118.39" y="521.29" width="2.12" height="0.6" fill="#c4d4f0"/><rect x="139.57" y="524.4" width="1.76" height="0.6" fill="#c4d4f0"/><rect x="150.66" y="526.32" width="0.82" height="0.6" fill="#3d5fa8"/><rect x="135.19" y="526.18" width="1.83" height="0.6" fill="#a9bfe8"/><rect x="160.01" y="523.05" width="1.88" height="0.6" fill="#c4d4f0"/><rect x="113.89" y="524.14" width="2.14" height="0.6" fill="#3d5fa8"/><rect x="102.32" y="521.19" width="1.19" height="0.6" fill="#8aa6dc"/><rect x="114.61" y="522.65" width="1.29" height="0.6" fill="#8aa6dc"/><rect x="119.85" y="526.25" width="1.61" height="0.6" fill="#3d5fa8"/><rect x="120.05" y="521.1" width="2.19" height="0.6" fill="#a9bfe8"/><rect x="128.5" y="522.44" width="1.69" height="0.6" fill="#8aa6dc"/><rect x="118.43" y="521.25" width="2.18" height="0.6" fill="#c4d4f0"/><rect x="99.92" y="524.19" width="1.76" height="0.6" fill="#c4d4f0"/><rect x="129.63" y="526.51" width="2.17" height="0.6" fill="#c4d4f0"/><rect x="110.33" y="526.77" width="2.15" height="0.6" fill="#a9bfe8"/><rect x="156.67" y="521.1" width="2.16" height="0.6" fill="#3d5fa8"/><rect x="150.12" y="526.32" width="1.94" height="0.6" fill="#a9bfe8"/><rect x="108.93" y="523.31" width="1.77" height="0.6" fill="#3d5fa8"/><rect x="152.29" y="524.74" width="1.37" height="0.6" fill="#a9bfe8"/><rect x="133.3" y="524.06" width="2.17" height="0.6" fill="#8aa6dc"/><rect x="132.67" y="522.39" width="1.03" height="0.6" fill="#3d5fa8"/><rect x="101.75" y="526.13" width="1.62" height="0.6" fill="#c4d4f0"/><rect x="112.84" y="523.25" width="1.68" height="0.6" fill="#a9bfe8"/><rect x="160.51" y="525.31" width="1.12" height="0.6" fill="#3d5fa8"/><rect x="151.06" y="526.62" width="1.64" height="0.6" fill="#c4d4f0"/><rect x="102.04" y="525.79" width="2.15" height="0.6" fill="#8aa6dc"/><rect x="158.1" y="524.14" width="1.66" height="0.6" fill="#3d5fa8"/><rect x="109.62" y="526.64" width="1.1" height="0.6" fill="#c4d4f0"/><rect x="121.35" y="524.35" width="1.53" height="0.6" fill="#a9bfe8"/><rect x="110.89" y="524.25" width="1.79" height="0.6" fill="#8aa6dc"/><rect x="127.36" y="523.47" width="1.51" height="0.6" fill="#c4d4f0"/><rect x="127.58" y="522.57" width="1.06" height="0.6" fill="#a9bfe8"/><rect x="151.48" y="523.6" width="1.85" height="0.6" fill="#8aa6dc"/><rect x="101.92" y="521.39" width="1.73" height="0.6" fill="#a9bfe8"/><rect x="100.36" y="523.63" width="2.07" height="0.6" fill="#8aa6dc"/><rect x="162.16" y="521.39" width="2.07" height="0.6" fill="#a9bfe8"/><rect x="127.74" y="525.73" width="2.09" height="0.6" fill="#a9bfe8"/><rect x="153.03" y="525.56" width="1.4" height="0.6" fill="#a9bfe8"/><rect x="145.85" y="521.16" width="2.16" height="0.6" fill="#3d5fa8"/><rect x="115.84" y="522.88" width="1.56" height="0.6" fill="#c4d4f0"/><rect x="124.55" y="520.84" width="1.85" height="0.6" fill="#3d5fa8"/><rect x="103.78" y="525.3" width="1.91" height="0.6" fill="#3d5fa8"/><rect x="119.42" y="521.5" width="0.98" height="0.6" fill="#8aa6dc"/><rect x="157.72" y="525.73" width="1.42" height="0.6" fill="#3d5fa8"/><rect x="114.6" y="524.89" width="1.23" height="0.6" fill="#8aa6dc"/><rect x="129.5" y="521.57" width="1.51" height="0.6" fill="#8aa6dc"/><rect x="148.82" y="521.3" width="1.41" height="0.6" fill="#c4d4f0"/><rect x="148.59" y="524.43" width="2.06" height="0.6" fill="#8aa6dc"/><rect x="109.13" y="524.01" width="1.24" height="0.6" fill="#3d5fa8"/><rect x="159.83" y="523.24" width="1.66" height="0.6" fill="#8aa6dc"/><rect x="156.34" y="521.71" width="1.13" height="0.6" fill="#3d5fa8"/><rect x="133.19" y="523.46" width="1.5" height="0.6" fill="#8aa6dc"/><rect x="117.08" y="522.26" width="1.15" height="0.6" fill="#8aa6dc"/><rect x="122.44" y="524.61" width="1.27" height="0.6" fill="#a9bfe8"/><rect x="126.15" y="526.14" width="1.33" height="0.6" fill="#8aa6dc"/><rect x="103.12" y="522.58" width="1.2" height="0.6" fill="#c4d4f0"/><rect x="119.17" y="526.58" width="1.84" height="0.6" fill="#3d5fa8"/><rect x="123.14" y="522.75" width="1.6" height="0.6" fill="#8aa6dc"/><rect x="126.52" y="526.49" width="1.86" height="0.6" fill="#3d5fa8"/><rect x="113.78" y="522.08" width="2.01" height="0.6" fill="#c4d4f0"/><rect x="122.63" y="526.47" width="1.23" height="0.6" fill="#8aa6dc"/><rect x="155" y="520.87" width="2.02" height="0.6" fill="#a9bfe8"/><rect x="121.13" y="524.7" width="1.37" height="0.6" fill="#3d5fa8"/><rect x="142.72" y="523.5" width="1.88" height="0.6" fill="#8aa6dc"/><rect x="146.73" y="522.08" width="1.09" height="0.6" fill="#3d5fa8"/><rect x="145.78" y="525.04" width="1.07" height="0.6" fill="#c4d4f0"/><rect x="103.17" y="524.75" width="1.3" height="0.6" fill="#8aa6dc"/><rect x="158.73" y="523.71" width="1.42" height="0.6" fill="#a9bfe8"/><rect x="107" y="526.07" width="1.88" height="0.6" fill="#8aa6dc"/><rect x="142.46" y="523.07" width="1.27" height="0.6" fill="#8aa6dc"/><rect x="119.51" y="523.12" width="1.1" height="0.6" fill="#8aa6dc"/><rect x="130.13" y="523.64" width="1.37" height="0.6" fill="#c4d4f0"/><rect x="104.97" y="526.76" width="1.5" height="0.6" fill="#3d5fa8"/><rect x="128.82" y="521.99" width="1.16" height="0.6" fill="#a9bfe8"/><rect x="153.45" y="522.55" width="0.88" height="0.6" fill="#3d5fa8"/><rect x="152.9" y="524.68" width="1.54" height="0.6" fill="#c4d4f0"/><rect x="131.71" y="525.66" width="0.85" height="0.6" fill="#a9bfe8"/><rect x="143.99" y="522.51" width="1.66" height="0.6" fill="#a9bfe8"/><rect x="143.66" y="522.45" width="1.66" height="0.6" fill="#c4d4f0"/><rect x="159.49" y="525.41" width="0.95" height="0.6" fill="#3d5fa8"/><rect x="122.42" y="523.48" width="1.92" height="0.6" fill="#c4d4f0"/><rect x="122.08" y="522.12" width="1.64" height="0.6" fill="#a9bfe8"/><rect x="120.89" y="525.53" width="1.99" height="0.6" fill="#a9bfe8"/><rect x="137.72" y="526.55" width="0.86" height="0.6" fill="#c4d4f0"/><rect x="158.67" y="524.86" width="1.45" height="0.6" fill="#8aa6dc"/><rect x="133.65" y="523.45" width="1.75" height="0.6" fill="#3d5fa8"/><rect x="99.77" y="524.36" width="1.88" height="0.6" fill="#8aa6dc"/><rect x="129.07" y="522.65" width="1.7" height="0.6" fill="#3d5fa8"/><rect x="137.38" y="524.12" width="1.41" height="0.6" fill="#c4d4f0"/><rect x="98.8" y="523.57" width="2.03" height="0.6" fill="#3d5fa8"/><rect x="145.7" y="526.36" width="0.88" height="0.6" fill="#c4d4f0"/><rect x="104.56" y="524.68" width="1.22" height="0.6" fill="#a9bfe8"/><rect x="144.99" y="524.34" width="1.73" height="0.6" fill="#a9bfe8"/><rect x="141.94" y="524.88" width="1.99" height="0.6" fill="#8aa6dc"/><rect x="154.55" y="525.29" width="1.91" height="0.6" fill="#a9bfe8"/><rect x="150.75" y="523.09" width="0.88" height="0.6" fill="#c4d4f0"/><rect x="125.08" y="525.38" width="1.17" height="0.6" fill="#8aa6dc"/><rect x="134.62" y="525.21" width="1.64" height="0.6" fill="#8aa6dc"/><rect x="154.03" y="525.79" width="1.72" height="0.6" fill="#c4d4f0"/><rect x="118.74" y="526.42" width="1.67" height="0.6" fill="#8aa6dc"/><rect x="146.73" y="523.61" width="1.42" height="0.6" fill="#3d5fa8"/><rect x="150.6" y="524.51" width="1.08" height="0.6" fill="#a9bfe8"/><rect x="114.56" y="522.36" width="2.04" height="0.6" fill="#3d5fa8"/><rect x="151.69" y="523.12" width="0.86" height="0.6" fill="#a9bfe8"/><rect x="100.12" y="524.05" width="1.86" height="0.6" fill="#3d5fa8"/><rect x="150.51" y="524.8" width="1.04" height="0.6" fill="#3d5fa8"/><rect x="136.1" y="524.76" width="1.64" height="0.6" fill="#3d5fa8"/><rect x="135.17" y="526.34" width="0.95" height="0.6" fill="#a9bfe8"/><rect x="156.08" y="523.52" width="1.01" height="0.6" fill="#c4d4f0"/><rect x="157.33" y="520.84" width="0.81" height="0.6" fill="#c4d4f0"/><rect x="122.63" y="525" width="0.94" height="0.6" fill="#8aa6dc"/><rect x="111.57" y="525.08" width="1.65" height="0.6" fill="#c4d4f0"/><rect x="119.54" y="523.66" width="2.15" height="0.6" fill="#3d5fa8"/></g>
<circle cx="21.6" cy="523.4" r="5.1" fill="url(#sph)"/>
<circle cx="31.4" cy="523.4" r="5.1" fill="url(#sph)"/>
<circle cx="42" cy="523.6" r="5.1" fill="url(#sph)"/>
<circle cx="26.3" cy="514.6" r="5.1" fill="url(#sph)"/>
<circle cx="59.9" cy="524.1" r="5.1" fill="url(#sph)"/>
<circle cx="70.8" cy="523.6" r="5.1" fill="url(#sph)"/>
<circle cx="64.2" cy="515.8" r="5.1" fill="url(#sph)"/>
<text x="17.3" y="436.9" font-size="11.7" fill="#111" stroke="#111" stroke-width="0.35">(e)</text>
<text x="97.6" y="432.7" font-size="11.65" font-weight="bold" fill="#111">Baseline electrolyte</text>
<text x="15.2" y="505.6" font-size="11.65" font-weight="bold" fill="#111">Zn Dendrites</text>
<text x="101.2" y="516.9" font-size="11.65" font-weight="bold" fill="#111">Passivation</text>
<text x="182.2" y="522.5" font-size="11.65" font-weight="bold" fill="#111">Corrosion</text>
<text x="220.7" y="489.6" font-size="11" font-weight="bold" fill="#111">H<tspan font-size="7" dy="2.4">2</tspan><tspan dy="-2.4">​</tspan>O</text>
<text x="281.2" y="522.9" font-size="11" font-weight="bold" fill="#111">H<tspan font-size="7" dy="2.4">2</tspan><tspan dy="-2.4">​</tspan>+</text>
<path d="M227,496.5 C231,510 240,519 256,520.8 L271,521.3" fill="none" stroke="#6aaa3c" stroke-width="2.4"/>
<polygon points="278.5,521.6 269.5,516.8 269.5,526.2" fill="#6aaa3c"/>
<circle cx="287.9" cy="479.5" r="7.9" fill="#9fd0ee"/><circle cx="287.9" cy="479.5" r="7.0" fill="#8cc6ea"/><circle cx="288.2" cy="479.3" r="5.3" fill="#fff"/>
<circle cx="287.1" cy="494.6" r="6.4" fill="#9fd0ee"/><circle cx="287.1" cy="494.6" r="5.5" fill="#8cc6ea"/><circle cx="287.40000000000003" cy="494.40000000000003" r="4.2" fill="#fff"/>
<circle cx="283.4" cy="507.3" r="5.2" fill="#9fd0ee"/><circle cx="283.4" cy="507.3" r="4.3" fill="#8cc6ea"/><circle cx="283.7" cy="507.1" r="3.1" fill="#fff"/>
<ellipse cx="316" cy="518.9" rx="12.3" ry="11.5" fill="none" stroke="#6aaa3c" stroke-width="2"/>
<text x="306" y="522.9" font-size="11" font-weight="bold" fill="#111">OH<tspan font-size="7" dy="-4.2">−</tspan><tspan dy="4.2">​</tspan></text>
<path d="M324.6,507.6 C334,495 350,487.6 368,487.4 C388,487.2 405,493 418,500.6" fill="none" stroke="#6aaa3c" stroke-width="2.7"/>
<polygon points="426.6,505.6 414.6,504.4 420.6,496" fill="#6aaa3c"/>
<path id="arct" d="M326.5,500.5 C335,488 352,478.4 371,478.2 C390,478 405,484 419,494.5" fill="none"/>
<text font-size="11.4" font-weight="bold" fill="#6c9c48"><textPath href="#arct">local pH increase</textPath></text>
<text transform="translate(333.6,517.2) rotate(-30)" font-size="11.4" font-weight="bold" fill="#111">+ Zn<tspan font-size="7" dy="-4.4">2+</tspan><tspan dy="4.4">​</tspan></text>
<text transform="translate(364.2,500.2) rotate(7)" font-size="11.4" font-weight="bold" fill="#111">+ H<tspan font-size="7.2" dy="2.6">2</tspan><tspan dy="-2.6">​</tspan>PO<tspan font-size="7.2" dy="2.6">4</tspan><tspan dy="-2.6">​</tspan><tspan font-size="7.2" dy="-3">−</tspan><tspan dy="3">​</tspan></text>
<text x="350.2" y="548.8" font-size="11" font-weight="bold" text-anchor="middle" fill="#111">Zn</text>
<text x="424.5" y="431.9" font-size="11.6" font-weight="bold" fill="#111">Designed electrolyte</text>
<g><path d="M536.1,476L527.2,467.8M536.1,476L535.4,467.4M536.1,476L545.2,465.2M536.1,476L528.2,481.7M536.1,476L535.4,484.3M536.1,476L544.2,482.2M536.1,476L526.6,474.5M536.1,476L545.4,475.6M536.1,503.4L527.5,494.5M536.1,503.4L536,494.4M536.1,503.4L545,492.5M536.1,503.4L527,510M536.1,503.4L536,511.8M536.1,503.4L545,510M536.1,503.4L526.6,502M536.1,503.4L545.2,503.4M573.6,468.8L567.4,465.2M573.6,468.8L573.1,463.7M573.6,468.8L580.3,466.8M573.6,468.8L572.6,477.1M573.6,468.8L565.3,473.5M573.6,494.7L566.4,491.6M573.6,494.7L581.3,493.1M573.6,494.7L572.6,485.4M573.6,494.7L572.6,502.9M573.6,494.7L565.3,497.8M563.3,468.3L567.4,465.2M563.3,468.3L557.1,471.4M563.3,468.3L556.5,466M562.2,480.7L557.1,471.4M562.2,480.7L565.3,473.5M562.2,480.7L563.3,488.4M562.2,480.7L557,486M562.2,480.7L572.6,477.1M562.7,508.6L559.6,510.2M562.7,508.6L572.6,511.2M562.7,508.6L565.3,497.8M562.7,508.6L558,500M589.6,463.2L580.3,466.8M589.6,463.2L598.9,466.8M589.6,473L581.3,469.9M589.6,473L598.9,469.4M589.6,473L589.6,481.8M589.6,489.5L580.3,482.8M589.6,489.5L598.9,482.8M589.6,489.5L581.3,493.1M589.6,489.5L598.9,493.6M589.6,489.5L589.6,481.8M589.6,499.3L581.3,495.7M589.6,499.3L598.9,496.2M589.6,499.3L589.6,507.6M589.6,499.3L580.3,509.1M589.6,499.3L598.9,509.1M589.6,463.2L589.6,473M589.6,489.5L589.6,499.3M545.2,465.2L556.5,466M544.2,482.2L557,486M545,492.5L557,486M545,510L559.6,510.2" stroke="#d83a3a" stroke-width="1.05" fill="none"/><circle cx="525.33" cy="465.99" r="1.1" fill="#f6d4d8"/><circle cx="535.26" cy="464.8" r="1.1" fill="#f6d4d8"/><circle cx="545.92" cy="462.7" r="1.1" fill="#f6d4d8"/><circle cx="530.63" cy="480.77" r="1.1" fill="#f6d4d8"/><circle cx="535.23" cy="481.71" r="1.1" fill="#f6d4d8"/><circle cx="546.49" cy="480.97" r="1.1" fill="#f6d4d8"/><circle cx="529.16" cy="474.97" r="1.1" fill="#f6d4d8"/><circle cx="542.86" cy="476.16" r="1.1" fill="#f6d4d8"/><circle cx="529.93" cy="493.59" r="1.1" fill="#f6d4d8"/><circle cx="534.45" cy="492.31" r="1.1" fill="#f6d4d8"/><circle cx="547.11" cy="490.98" r="1.1" fill="#f6d4d8"/><circle cx="528.97" cy="511.7" r="1.1" fill="#f6d4d8"/><circle cx="533.45" cy="512.31" r="1.1" fill="#f6d4d8"/><circle cx="545.06" cy="512.6" r="1.1" fill="#f6d4d8"/><circle cx="524.1" cy="501.3" r="1.1" fill="#f6d4d8"/><circle cx="542.87" cy="502.24" r="1.1" fill="#f6d4d8"/><circle cx="569.99" cy="465.41" r="1.1" fill="#f6d4d8"/><circle cx="580.84" cy="469.34" r="1.1" fill="#f6d4d8"/><circle cx="598.42" cy="469.36" r="1.1" fill="#f6d4d8"/><circle cx="574.85" cy="475.79" r="1.1" fill="#f6d4d8"/><circle cx="572.85" cy="482.81" r="1.1" fill="#f6d4d8"/><circle cx="591" cy="483.99" r="1.1" fill="#f6d4d8"/><circle cx="582.05" cy="490.61" r="1.1" fill="#f6d4d8"/><circle cx="600.57" cy="495.59" r="1.1" fill="#f6d4d8"/><circle cx="570.67" cy="501.15" r="1.1" fill="#f6d4d8"/><circle cx="582.12" cy="510.96" r="1.1" fill="#f6d4d8"/><circle cx="562.2" cy="510.23" r="1.1" fill="#f6d4d8"/><circle cx="567.09" cy="495.92" r="1.1" fill="#f6d4d8"/><circle cx="565.96" cy="476.02" r="1.1" fill="#f6d4d8"/><circle cx="557.56" cy="488.54" r="1.1" fill="#f6d4d8"/><circle cx="559.08" cy="465.71" r="1.1" fill="#f6d4d8"/><circle cx="527.2" cy="467.8" r="1.55" fill="url(#oxg)"/><circle cx="535.4" cy="467.4" r="1.55" fill="url(#oxg)"/><circle cx="545.2" cy="465.2" r="1.55" fill="url(#oxg)"/><circle cx="528.2" cy="481.7" r="1.55" fill="url(#oxg)"/><circle cx="535.4" cy="484.3" r="1.55" fill="url(#oxg)"/><circle cx="544.2" cy="482.2" r="1.55" fill="url(#oxg)"/><circle cx="526.6" cy="474.5" r="1.55" fill="url(#oxg)"/><circle cx="545.4" cy="475.6" r="1.55" fill="url(#oxg)"/><circle cx="527.5" cy="494.5" r="1.55" fill="url(#oxg)"/><circle cx="536" cy="494.4" r="1.55" fill="url(#oxg)"/><circle cx="545" cy="492.5" r="1.55" fill="url(#oxg)"/><circle cx="527" cy="510" r="1.55" fill="url(#oxg)"/><circle cx="536" cy="511.8" r="1.55" fill="url(#oxg)"/><circle cx="545" cy="510" r="1.55" fill="url(#oxg)"/><circle cx="526.6" cy="502" r="1.55" fill="url(#oxg)"/><circle cx="545.2" cy="503.4" r="1.55" fill="url(#oxg)"/><circle cx="567.4" cy="465.2" r="1.55" fill="url(#oxg)"/><circle cx="573.1" cy="463.7" r="1.55" fill="url(#oxg)"/><circle cx="580.3" cy="466.8" r="1.55" fill="url(#oxg)"/><circle cx="581.3" cy="469.9" r="1.55" fill="url(#oxg)"/><circle cx="598.9" cy="466.8" r="1.55" fill="url(#oxg)"/><circle cx="598.9" cy="469.4" r="1.55" fill="url(#oxg)"/><circle cx="572.6" cy="477.1" r="1.55" fill="url(#oxg)"/><circle cx="580.3" cy="482.8" r="1.55" fill="url(#oxg)"/><circle cx="572.6" cy="485.4" r="1.55" fill="url(#oxg)"/><circle cx="598.9" cy="482.8" r="1.55" fill="url(#oxg)"/><circle cx="589.6" cy="481.8" r="1.55" fill="url(#oxg)"/><circle cx="566.4" cy="491.6" r="1.55" fill="url(#oxg)"/><circle cx="581.3" cy="493.1" r="1.55" fill="url(#oxg)"/><circle cx="581.3" cy="495.7" r="1.55" fill="url(#oxg)"/><circle cx="598.9" cy="493.6" r="1.55" fill="url(#oxg)"/><circle cx="598.9" cy="496.2" r="1.55" fill="url(#oxg)"/><circle cx="572.6" cy="502.9" r="1.55" fill="url(#oxg)"/><circle cx="589.6" cy="507.6" r="1.55" fill="url(#oxg)"/><circle cx="580.3" cy="509.1" r="1.55" fill="url(#oxg)"/><circle cx="598.9" cy="509.1" r="1.55" fill="url(#oxg)"/><circle cx="559.6" cy="510.2" r="1.55" fill="url(#oxg)"/><circle cx="572.6" cy="511.2" r="1.55" fill="url(#oxg)"/><circle cx="565.3" cy="497.8" r="1.55" fill="url(#oxg)"/><circle cx="557.1" cy="471.4" r="1.55" fill="url(#oxg)"/><circle cx="565.3" cy="473.5" r="1.55" fill="url(#oxg)"/><circle cx="563.3" cy="488.4" r="1.55" fill="url(#oxg)"/><circle cx="557" cy="486" r="1.55" fill="url(#oxg)"/><circle cx="558" cy="500" r="1.55" fill="url(#oxg)"/><circle cx="556.5" cy="466" r="1.55" fill="url(#oxg)"/><circle cx="573.6" cy="468.8" r="2.2" fill="#a070b8"/><circle cx="573.2" cy="468.4" r="1" fill="#e8d0f0"/><circle cx="573.6" cy="494.7" r="2.2" fill="#a070b8"/><circle cx="573.2" cy="494.3" r="1" fill="#e8d0f0"/><circle cx="536.1" cy="476" r="2.8" fill="url(#gzn)"/><circle cx="536.1" cy="503.4" r="2.8" fill="url(#gzn)"/><circle cx="563.3" cy="468.3" r="2.8" fill="url(#gzn)"/><circle cx="562.2" cy="480.7" r="2.8" fill="url(#gzn)"/><circle cx="562.7" cy="508.6" r="2.8" fill="url(#gzn)"/><circle cx="589.6" cy="463.2" r="2.8" fill="url(#gzn)"/><circle cx="589.6" cy="473" r="2.8" fill="url(#gzn)"/><circle cx="589.6" cy="489.5" r="2.8" fill="url(#gzn)"/><circle cx="589.6" cy="499.3" r="2.8" fill="url(#gzn)"/><path d="M551.2,461.5 L555.6,450.5 L560.2,452.2 L555.8,463.6 Z" fill="url(#glow)"/><path d="M558.2,524 L550.4,512.5 L553.8,510.8 L561,521.6 Z" fill="url(#glow2)"/><circle cx="553.4" cy="462.6" r="2.9" fill="url(#yel)"/><circle cx="549.8" cy="476" r="3.1" fill="url(#yel)"/><circle cx="550.5" cy="480" r="2.9" fill="url(#yel)"/><circle cx="549.8" cy="484.3" r="3.1" fill="url(#yel)"/><circle cx="552.2" cy="492.6" r="3.1" fill="url(#yel)"/><circle cx="555" cy="495.4" r="3" fill="url(#yel)"/><circle cx="549.8" cy="501.8" r="3" fill="url(#yel)"/><circle cx="559.4" cy="522.7" r="2.8" fill="url(#yel)"/><circle cx="556.3" cy="489.6" r="2.4" fill="url(#yel)"/></g>
<rect x="428.6" y="441.6" width="254.6" height="85.2" fill="none" stroke="#ee7b36" stroke-width="1.8" stroke-dasharray="4.9,1.9"/>
<text x="433.9" y="458" font-size="11.65" font-weight="bold" fill="#111">Side reaction-free</text>
<text x="435.9" y="476.8" font-size="11.65" font-weight="bold" fill="#111">Dendrite-free</text>
<text x="562.9" y="457.1" font-size="11.6" font-weight="bold" fill="#111">Fast Zn<tspan font-size="7" dy="-4.2">2+</tspan><tspan dy="4.2">​</tspan> conducting</text>
<text x="437.4" y="508.7" font-size="10.6" font-weight="bold" fill="#e8763a">Zn<tspan font-size="7" dy="2.4">3</tspan><tspan dy="-2.4">​</tspan>(PO<tspan font-size="7" dy="2.4">4</tspan><tspan dy="-2.4">​</tspan>)<tspan font-size="7" dy="2.4">2</tspan><tspan dy="-2.4">​</tspan>·4H<tspan font-size="7" dy="2.4">2</tspan><tspan dy="-2.4">​</tspan>O</text>
<text x="434.3" y="524.7" font-size="11.65" font-weight="bold" fill="#111">In situ SEI layer</text>
</svg>
</body></html>
